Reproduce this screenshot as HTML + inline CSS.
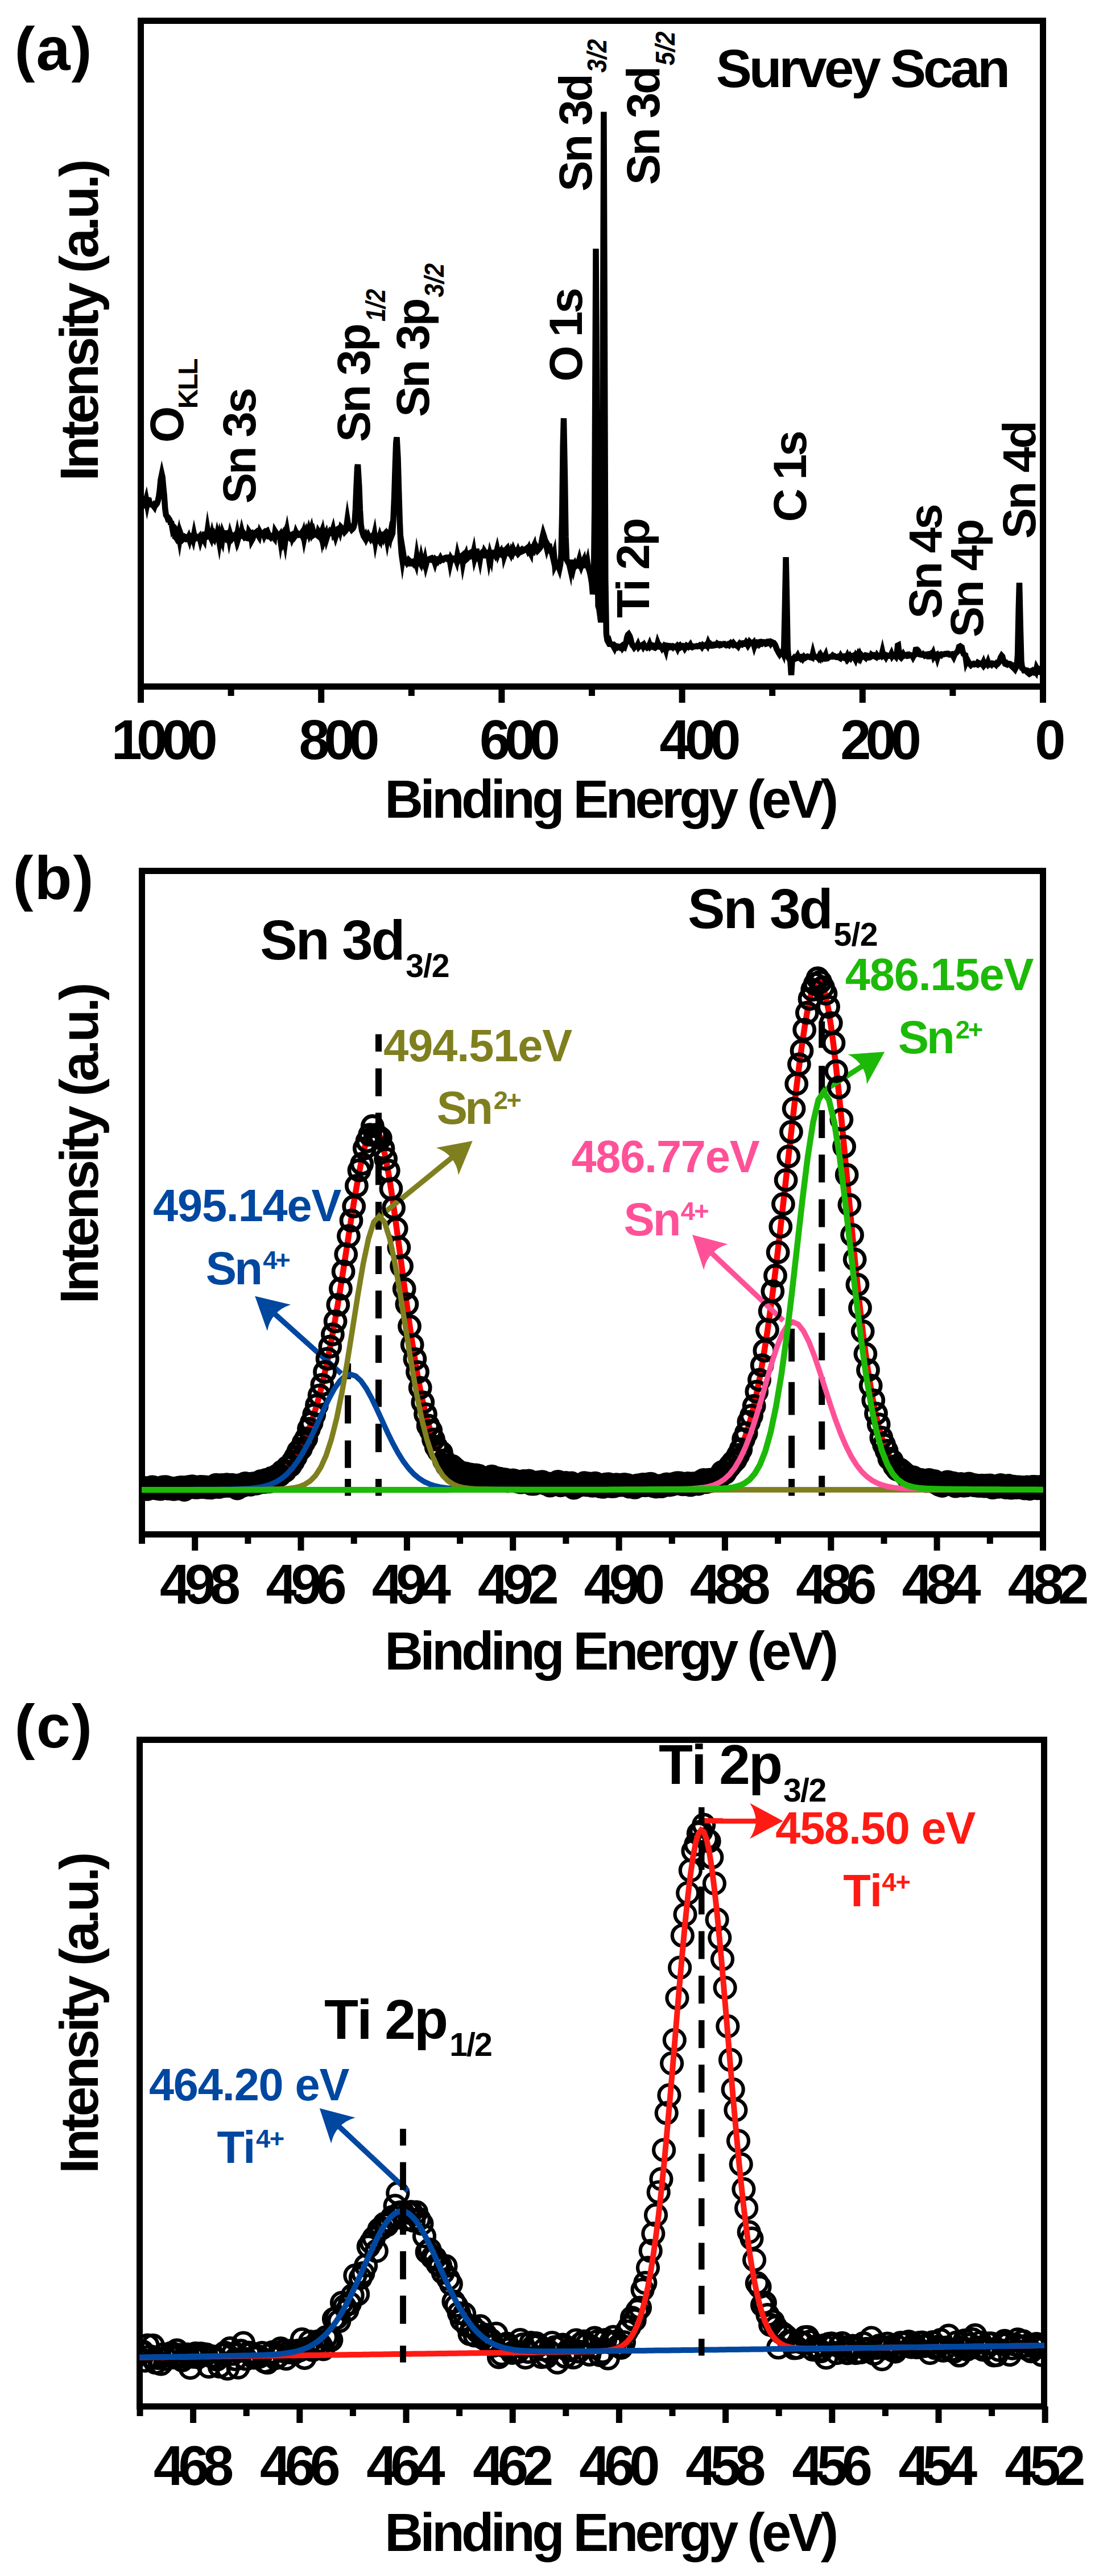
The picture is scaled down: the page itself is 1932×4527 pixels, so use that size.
<!DOCTYPE html>
<html><head><meta charset="utf-8"><title>XPS spectra</title>
<style>
html,body{margin:0;padding:0;background:#fff;}
svg{display:block;}
svg text{font-family:"Liberation Sans",Arial,Helvetica,sans-serif;font-kerning:none;white-space:pre;}
</style></head><body>
<svg width="1932" height="4527" viewBox="0 0 1932 4527">
<rect width="1932" height="4527" fill="#fff"/>
<path d="M247.5 879.2 L249.1 882.1 L250.7 878.0 L252.3 880.8 L253.8 885.3 L255.4 883.3 L257.0 877.6 L258.6 886.2 L260.2 878.5 L261.8 878.9 L263.4 885.9 L264.9 885.3 L266.5 886.9 L268.1 887.7 L269.7 888.7 L271.3 890.9 L272.9 886.1 L274.5 886.7 L276.0 884.8 L277.6 880.0 L279.2 872.5 L280.8 861.5 L282.4 843.7 L284.5 833.6 L285.6 838.4 L287.1 855.4 L288.7 871.3 L290.3 894.1 L291.9 905.4 L293.5 907.4 L295.1 912.0 L296.7 911.4 L298.3 913.7 L299.8 918.7 L301.4 919.3 L303.0 928.3 L304.6 925.0 L306.2 926.6 L307.8 943.4 L309.4 944.2 L310.9 946.7 L312.5 944.2 L314.1 937.7 L315.7 947.3 L317.3 937.4 L318.9 941.9 L320.5 943.3 L322.0 947.2 L323.6 945.6 L325.2 943.3 L326.8 944.2 L328.4 947.4 L330.0 947.0 L331.6 943.7 L333.1 948.3 L334.7 942.1 L336.3 943.1 L337.9 942.5 L339.5 947.5 L341.1 939.3 L342.7 947.0 L344.2 946.1 L345.8 943.8 L347.4 945.1 L349.0 945.0 L350.6 943.2 L352.2 949.6 L353.8 944.1 L355.3 943.0 L356.9 946.0 L358.5 948.8 L360.1 934.7 L361.7 944.2 L363.3 943.6 L364.9 932.0 L366.4 941.1 L368.0 942.0 L369.6 942.5 L371.2 945.9 L372.8 938.9 L374.4 945.3 L376.0 947.3 L377.6 941.4 L379.1 944.4 L380.7 945.9 L382.3 937.7 L383.9 942.9 L385.5 952.3 L387.1 941.9 L388.7 947.1 L390.2 950.9 L391.8 938.4 L393.4 942.5 L395.0 944.3 L396.6 937.1 L398.2 937.1 L399.8 938.6 L401.3 937.2 L402.9 946.5 L404.5 938.8 L406.1 944.2 L407.7 946.8 L409.3 944.8 L410.9 941.0 L412.4 941.3 L414.0 939.6 L415.6 946.3 L417.2 938.2 L418.8 946.1 L420.4 940.8 L422.0 941.7 L423.5 941.7 L425.1 933.9 L426.7 940.0 L428.3 942.2 L429.9 939.2 L431.5 941.3 L433.1 945.3 L434.6 945.8 L436.2 946.1 L437.8 934.9 L439.4 937.4 L441.0 936.9 L442.6 949.4 L444.2 946.5 L445.8 940.9 L447.3 940.0 L448.9 936.6 L450.5 935.3 L452.1 938.6 L453.7 940.5 L455.3 943.0 L456.9 935.4 L458.4 938.3 L460.0 937.5 L461.6 937.8 L463.2 936.5 L464.8 941.4 L466.4 938.1 L468.0 933.9 L469.5 933.0 L471.1 937.3 L472.7 942.5 L474.3 942.4 L475.9 944.2 L477.5 942.0 L479.1 942.7 L480.6 944.0 L482.2 946.0 L483.8 934.1 L485.4 936.7 L487.0 941.9 L488.6 941.4 L490.2 942.5 L491.7 940.5 L493.3 951.5 L494.9 942.3 L496.5 939.7 L498.1 947.9 L499.7 943.0 L501.3 951.9 L502.8 940.8 L504.4 933.0 L506.0 942.5 L507.6 943.4 L509.2 944.9 L510.8 940.0 L512.4 939.6 L513.9 945.7 L515.5 942.2 L517.1 944.3 L518.7 942.0 L520.3 936.0 L521.9 939.6 L523.5 938.5 L525.0 940.3 L526.6 940.1 L528.2 939.8 L529.8 937.5 L531.4 941.0 L533.0 936.5 L534.6 945.9 L536.2 938.0 L537.7 934.3 L539.3 939.7 L540.9 937.7 L542.5 932.2 L544.1 938.4 L545.7 934.7 L547.3 929.7 L548.8 936.8 L550.4 933.6 L552.0 939.6 L553.6 938.5 L555.2 937.8 L556.8 939.8 L558.4 941.1 L559.9 934.3 L561.5 936.8 L563.1 941.1 L564.7 937.0 L566.3 945.8 L567.9 937.9 L569.5 945.8 L571.0 940.6 L572.6 937.5 L574.2 946.1 L575.8 941.0 L577.4 938.0 L579.0 937.5 L580.6 933.9 L582.1 935.2 L583.7 935.8 L585.3 930.7 L586.9 938.9 L588.5 936.9 L590.1 942.8 L591.7 937.9 L593.2 934.9 L594.8 929.0 L596.4 928.0 L598.0 933.2 L599.6 926.8 L601.2 928.5 L602.8 931.3 L604.4 931.3 L605.9 934.6 L607.5 932.8 L609.1 924.9 L610.7 913.4 L612.3 923.2 L613.9 928.0 L615.5 928.8 L617.0 927.4 L618.6 930.4 L620.2 928.9 L621.8 925.9 L623.4 919.3 L625.0 894.3 L626.6 854.1 L628.1 821.6 L629.0 816.3 L631.3 853.9 L632.9 895.7 L634.5 921.7 L636.1 932.3 L637.7 937.3 L639.2 942.1 L640.8 944.6 L642.4 941.6 L644.0 946.4 L645.6 943.2 L647.2 940.3 L648.8 943.4 L650.3 943.6 L651.9 946.6 L653.5 944.1 L655.1 941.9 L656.7 946.1 L658.3 939.0 L659.9 950.4 L661.4 942.2 L663.0 943.9 L664.6 944.3 L666.2 947.3 L667.8 941.9 L669.4 946.4 L671.0 939.5 L672.5 939.5 L674.1 943.9 L675.7 939.4 L677.3 937.5 L678.9 939.8 L680.5 948.7 L682.1 939.2 L683.6 941.1 L685.2 945.4 L686.8 936.4 L688.4 941.3 L690.0 937.3 L691.6 909.2 L693.2 872.0 L694.8 819.2 L696.3 777.5 L697.5 768.4 L699.5 805.2 L701.1 862.0 L702.7 914.8 L704.3 951.1 L705.9 973.5 L707.4 984.0 L709.0 973.6 L710.6 983.6 L712.2 987.3 L713.8 986.6 L715.4 989.2 L717.0 987.1 L718.5 984.2 L720.1 985.8 L721.7 990.3 L723.3 990.2 L724.9 988.6 L726.5 990.3 L728.1 987.0 L729.6 985.7 L731.2 990.3 L732.8 978.3 L734.4 987.4 L736.0 987.7 L737.6 987.5 L739.2 990.2 L740.7 981.6 L742.3 988.4 L743.9 988.0 L745.5 991.4 L747.1 984.6 L748.7 993.1 L750.3 987.2 L751.8 984.2 L753.4 983.6 L755.0 982.3 L756.6 981.6 L758.2 981.0 L759.8 984.3 L761.4 984.4 L763.0 984.3 L764.5 988.9 L766.1 983.1 L767.7 984.3 L769.3 986.3 L770.9 983.5 L772.5 984.1 L774.1 981.2 L775.6 984.3 L777.2 983.1 L778.8 983.6 L780.4 981.7 L782.0 980.5 L783.6 980.1 L785.2 982.0 L786.7 982.9 L788.3 979.6 L789.9 979.3 L791.5 988.9 L793.1 981.7 L794.7 984.2 L796.3 982.7 L797.8 983.1 L799.4 981.1 L801.0 981.0 L802.6 985.4 L804.2 975.9 L805.8 982.3 L807.4 978.3 L808.9 979.3 L810.5 978.3 L812.1 976.9 L813.7 988.5 L815.3 980.1 L816.9 977.9 L818.5 974.5 L820.0 982.7 L821.6 981.3 L823.2 978.8 L824.8 978.5 L826.4 971.7 L828.0 970.8 L829.6 976.0 L831.1 976.6 L832.7 969.7 L834.3 980.6 L835.9 975.0 L837.5 964.4 L839.1 978.2 L840.7 976.3 L842.2 975.2 L843.8 982.9 L845.4 973.0 L847.0 971.5 L848.6 976.3 L850.2 976.2 L851.8 969.4 L853.4 971.9 L854.9 972.2 L856.5 974.1 L858.1 972.3 L859.7 982.8 L861.3 974.4 L862.9 980.1 L864.5 966.5 L866.0 975.8 L867.6 974.7 L869.2 972.7 L870.8 975.5 L872.4 971.9 L874.0 965.6 L875.6 973.0 L877.1 969.2 L878.7 971.1 L880.3 968.9 L881.9 974.7 L883.5 976.1 L885.1 962.6 L886.7 976.4 L888.2 971.8 L889.8 965.6 L891.4 963.9 L893.0 970.5 L894.6 972.0 L896.2 969.9 L897.8 973.2 L899.3 968.1 L900.9 971.0 L902.5 965.9 L904.1 969.7 L905.7 967.6 L907.3 968.6 L908.9 970.8 L910.4 967.4 L912.0 971.7 L913.6 970.0 L915.2 967.2 L916.8 966.0 L918.4 968.6 L920.0 967.8 L921.5 966.9 L923.1 965.2 L924.7 964.8 L926.3 963.5 L927.9 967.0 L929.5 963.8 L931.1 969.0 L932.7 972.1 L934.2 956.7 L935.8 975.8 L937.4 962.3 L939.0 958.8 L940.6 967.8 L942.2 967.9 L943.8 964.1 L945.3 967.3 L946.9 965.6 L948.5 963.8 L950.1 961.3 L951.7 955.2 L953.3 945.6 L955.0 938.5 L956.4 942.8 L958.0 948.5 L959.6 956.5 L961.2 963.2 L962.8 957.7 L964.4 960.6 L966.0 960.5 L967.5 968.2 L969.1 969.9 L970.7 973.1 L972.3 980.3 L973.9 974.7 L975.5 994.0 L977.1 990.7 L978.6 991.5 L980.2 990.1 L981.8 995.7 L983.4 999.9 L985.0 992.3 L986.6 973.9 L988.2 902.5 L989.7 782.7 L991.0 735.0 L992.9 834.1 L994.5 942.9 L996.1 983.5 L997.7 986.3 L999.3 989.3 L1000.9 992.3 L1002.4 998.9 L1004.0 983.8 L1005.6 995.2 L1007.2 1000.4 L1008.8 993.5 L1010.4 990.7 L1012.0 994.3 L1013.5 992.7 L1015.1 993.4 L1016.7 989.7 L1018.3 984.0 L1019.9 990.9 L1021.5 995.2 L1023.1 990.7 L1024.6 987.8 L1026.2 984.5 L1027.8 993.4 L1029.4 993.0 L1031.0 993.1 L1032.6 987.3 L1034.2 998.0 L1035.7 1001.5 L1037.3 1007.4 L1038.9 1015.6 L1040.5 1025.8 L1042.1 1044.2 L1043.7 1033.7 L1045.3 891.4 L1047.5 437.1 L1048.4 569.3 L1050.0 953.3 L1051.6 1065.0 L1053.2 1069.7 L1054.8 1081.2 L1056.4 1093.7 L1057.9 1056.1 L1059.5 744.4 L1061.4 196.6 L1062.7 534.5 L1064.3 1017.8 L1065.9 1114.1 L1067.5 1125.0 L1069.0 1127.8 L1070.6 1126.2 L1072.2 1131.6 L1073.8 1131.5 L1075.4 1132.2 L1077.0 1133.7 L1078.6 1136.0 L1080.2 1138.9 L1081.7 1135.2 L1083.3 1136.6 L1084.9 1137.7 L1086.5 1136.1 L1088.1 1136.6 L1089.7 1137.8 L1091.3 1136.3 L1092.8 1135.2 L1094.4 1138.7 L1096.0 1136.6 L1097.6 1137.6 L1099.2 1132.9 L1100.8 1127.9 L1102.4 1119.7 L1103.9 1115.4 L1105.0 1114.4 L1107.1 1118.0 L1108.7 1123.4 L1110.3 1130.1 L1111.9 1134.0 L1113.5 1135.4 L1115.0 1137.9 L1116.6 1136.2 L1118.2 1135.8 L1119.8 1135.9 L1121.4 1132.8 L1123.0 1136.9 L1124.6 1135.2 L1126.1 1134.6 L1127.7 1134.5 L1129.3 1133.5 L1130.9 1136.5 L1132.5 1134.0 L1134.1 1136.8 L1135.7 1136.4 L1137.2 1137.8 L1138.8 1136.2 L1140.4 1136.2 L1142.0 1132.4 L1143.6 1136.6 L1145.2 1135.3 L1146.8 1133.9 L1148.3 1134.4 L1149.9 1137.9 L1151.5 1138.5 L1153.1 1137.1 L1154.7 1136.7 L1156.3 1130.2 L1157.9 1134.3 L1159.5 1134.1 L1161.0 1136.5 L1162.6 1136.4 L1164.2 1139.4 L1165.8 1137.3 L1167.4 1135.2 L1169.0 1136.9 L1170.6 1141.8 L1172.1 1134.5 L1173.7 1134.8 L1175.3 1137.7 L1176.9 1136.4 L1178.5 1135.6 L1180.1 1136.9 L1181.7 1136.0 L1183.2 1137.6 L1184.8 1136.0 L1186.4 1136.6 L1188.0 1137.4 L1189.6 1135.8 L1191.2 1139.2 L1192.8 1135.5 L1194.3 1134.5 L1195.9 1138.1 L1197.5 1137.2 L1199.1 1135.1 L1200.7 1135.1 L1202.3 1136.3 L1203.9 1139.3 L1205.4 1137.0 L1207.0 1134.7 L1208.6 1135.8 L1210.2 1137.0 L1211.8 1135.5 L1213.4 1133.4 L1215.0 1136.8 L1216.5 1137.4 L1218.1 1135.9 L1219.7 1136.3 L1221.3 1136.1 L1222.9 1136.0 L1224.5 1135.3 L1226.1 1135.9 L1227.6 1135.2 L1229.2 1135.3 L1230.8 1133.8 L1232.4 1134.4 L1234.0 1136.6 L1235.6 1134.0 L1237.2 1135.3 L1238.8 1135.0 L1240.3 1134.0 L1241.9 1132.6 L1243.5 1134.7 L1245.1 1129.9 L1246.7 1133.3 L1248.3 1132.3 L1249.9 1134.8 L1251.4 1135.0 L1253.0 1134.7 L1254.6 1132.7 L1256.2 1132.5 L1257.8 1133.8 L1259.4 1133.5 L1261.0 1131.1 L1262.5 1132.1 L1264.1 1131.9 L1265.7 1134.1 L1267.3 1133.7 L1268.9 1132.1 L1270.5 1132.0 L1272.1 1131.6 L1273.6 1131.6 L1275.2 1133.3 L1276.8 1134.2 L1278.4 1133.9 L1280.0 1132.5 L1281.6 1133.7 L1283.2 1131.5 L1284.7 1130.0 L1286.3 1131.4 L1287.9 1132.7 L1289.5 1130.4 L1291.1 1132.3 L1292.7 1133.7 L1294.3 1134.4 L1295.8 1134.2 L1297.4 1135.9 L1299.0 1132.7 L1300.6 1130.7 L1302.2 1132.1 L1303.8 1132.7 L1305.4 1130.5 L1306.9 1130.3 L1308.5 1131.5 L1310.1 1131.6 L1311.7 1129.0 L1313.3 1131.2 L1314.9 1134.1 L1316.5 1131.6 L1318.0 1128.2 L1319.6 1129.8 L1321.2 1130.1 L1322.8 1130.9 L1324.4 1129.3 L1326.0 1135.2 L1327.6 1130.4 L1329.2 1129.5 L1330.7 1131.4 L1332.3 1129.1 L1333.9 1128.7 L1335.5 1132.0 L1337.1 1130.5 L1338.7 1131.1 L1340.3 1128.4 L1341.8 1128.8 L1343.4 1128.5 L1345.0 1129.5 L1346.6 1131.5 L1348.2 1131.1 L1349.8 1127.7 L1351.4 1127.5 L1352.9 1128.3 L1354.5 1130.7 L1356.1 1128.0 L1357.7 1128.7 L1359.3 1130.9 L1360.9 1130.7 L1362.5 1132.8 L1364.0 1136.6 L1365.6 1141.1 L1367.2 1143.5 L1368.8 1147.1 L1370.4 1149.6 L1372.0 1147.1 L1373.6 1145.7 L1375.1 1144.9 L1376.7 1148.4 L1378.3 1136.6 L1379.9 1064.3 L1381.6 979.0 L1383.1 1050.7 L1384.7 1140.4 L1386.2 1156.1 L1387.8 1157.9 L1389.4 1162.4 L1391.0 1186.3 L1392.6 1160.9 L1394.2 1158.0 L1395.8 1156.2 L1397.3 1157.9 L1398.9 1157.1 L1400.5 1154.8 L1402.1 1152.3 L1403.7 1155.8 L1405.3 1155.3 L1406.9 1156.9 L1408.5 1154.3 L1410.0 1154.0 L1411.6 1157.0 L1413.2 1154.6 L1414.8 1156.6 L1416.4 1155.7 L1418.0 1154.3 L1419.6 1153.6 L1421.1 1154.1 L1422.7 1154.2 L1424.3 1155.1 L1425.9 1154.6 L1427.5 1155.5 L1429.1 1148.6 L1430.7 1154.6 L1432.2 1154.2 L1433.8 1154.3 L1435.4 1154.8 L1437.0 1154.6 L1438.6 1156.5 L1440.2 1153.3 L1441.8 1155.7 L1443.3 1151.8 L1444.9 1154.3 L1446.5 1156.5 L1448.1 1154.8 L1449.7 1154.3 L1451.3 1151.1 L1452.9 1157.4 L1454.4 1157.2 L1456.0 1155.0 L1457.6 1154.9 L1459.2 1154.6 L1460.8 1153.8 L1462.4 1154.0 L1464.0 1152.0 L1465.5 1153.1 L1467.1 1153.0 L1468.7 1154.4 L1470.3 1154.9 L1471.9 1154.7 L1473.5 1153.9 L1475.1 1155.7 L1476.7 1156.6 L1478.2 1153.1 L1479.8 1155.6 L1481.4 1155.7 L1483.0 1156.1 L1484.6 1153.2 L1486.2 1153.1 L1487.8 1156.3 L1489.3 1153.2 L1490.9 1157.4 L1492.5 1155.3 L1494.1 1153.0 L1495.7 1155.5 L1497.3 1152.9 L1498.9 1153.2 L1500.4 1152.3 L1502.0 1155.2 L1503.6 1158.2 L1505.2 1152.7 L1506.8 1154.8 L1508.4 1151.1 L1510.0 1154.6 L1511.5 1151.1 L1513.1 1155.0 L1514.7 1151.5 L1516.3 1153.1 L1517.9 1153.9 L1519.5 1154.1 L1521.1 1155.5 L1522.6 1151.7 L1524.2 1152.0 L1525.8 1153.2 L1527.4 1155.5 L1529.0 1155.3 L1530.6 1154.4 L1532.2 1150.6 L1533.7 1151.7 L1535.3 1151.3 L1536.9 1153.3 L1538.5 1153.9 L1540.1 1154.8 L1541.7 1151.6 L1543.3 1153.8 L1544.8 1154.1 L1546.4 1152.8 L1548.0 1153.0 L1549.6 1152.0 L1551.2 1145.5 L1552.8 1152.6 L1554.4 1151.7 L1556.0 1152.2 L1557.5 1154.7 L1559.1 1151.8 L1560.7 1152.5 L1562.3 1152.8 L1563.9 1152.8 L1565.5 1152.6 L1567.1 1149.2 L1568.6 1153.2 L1570.2 1151.2 L1571.8 1151.5 L1573.4 1152.1 L1575.0 1153.9 L1576.6 1149.5 L1578.2 1134.5 L1579.0 1134.1 L1581.3 1152.8 L1582.9 1154.4 L1584.5 1150.3 L1586.1 1152.4 L1587.7 1149.8 L1589.3 1152.6 L1590.8 1152.1 L1592.4 1151.3 L1594.0 1150.7 L1595.6 1152.7 L1597.2 1152.4 L1598.8 1150.8 L1600.4 1151.7 L1601.9 1151.5 L1603.5 1151.4 L1605.1 1154.5 L1606.7 1151.6 L1608.3 1150.7 L1609.9 1141.8 L1612.0 1141.5 L1613.0 1142.2 L1614.6 1144.4 L1616.2 1149.9 L1617.8 1150.4 L1619.4 1150.6 L1621.0 1150.8 L1622.6 1149.5 L1624.1 1151.0 L1625.7 1152.5 L1627.3 1151.7 L1628.9 1150.0 L1630.5 1149.8 L1632.1 1153.6 L1633.7 1153.6 L1635.2 1151.9 L1636.8 1149.7 L1638.4 1151.0 L1640.0 1148.0 L1641.6 1153.9 L1643.2 1151.6 L1644.8 1151.3 L1646.4 1150.5 L1647.9 1155.7 L1649.5 1150.6 L1651.1 1150.6 L1652.7 1151.1 L1654.3 1151.8 L1655.9 1149.8 L1657.5 1150.1 L1659.0 1150.1 L1660.6 1149.4 L1662.2 1149.1 L1663.8 1149.2 L1665.4 1148.6 L1667.0 1148.8 L1668.6 1150.3 L1670.1 1150.6 L1671.7 1150.0 L1673.3 1149.6 L1674.9 1151.5 L1676.5 1154.3 L1678.1 1150.5 L1679.7 1148.4 L1681.2 1147.2 L1682.8 1145.6 L1684.4 1142.5 L1686.0 1136.6 L1688.0 1135.6 L1689.2 1136.4 L1690.8 1137.6 L1692.3 1144.9 L1693.9 1149.1 L1695.5 1150.5 L1697.1 1151.5 L1698.7 1162.9 L1700.3 1159.2 L1701.9 1162.2 L1703.4 1165.0 L1705.0 1167.1 L1706.6 1168.8 L1708.2 1167.2 L1709.8 1166.7 L1711.4 1166.3 L1713.0 1167.6 L1714.5 1167.1 L1716.1 1166.7 L1717.7 1167.5 L1719.3 1164.5 L1720.9 1165.3 L1722.5 1166.7 L1724.1 1165.9 L1725.7 1165.6 L1727.2 1167.6 L1728.8 1164.1 L1730.4 1168.6 L1732.0 1166.7 L1733.6 1167.8 L1735.2 1167.6 L1736.8 1163.7 L1738.3 1168.1 L1739.9 1167.0 L1741.5 1166.5 L1743.1 1167.9 L1744.7 1165.9 L1746.3 1166.3 L1747.9 1167.1 L1749.4 1166.5 L1751.0 1168.1 L1752.6 1165.5 L1754.2 1166.2 L1755.8 1164.4 L1757.4 1161.0 L1759.0 1155.7 L1761.0 1152.3 L1762.1 1153.5 L1763.7 1159.7 L1765.3 1162.6 L1766.9 1166.5 L1768.5 1167.2 L1770.1 1165.9 L1771.6 1167.5 L1773.2 1166.5 L1774.8 1166.5 L1776.4 1167.2 L1778.0 1170.0 L1779.6 1171.6 L1781.2 1170.6 L1782.7 1174.4 L1784.3 1176.2 L1785.9 1173.1 L1787.5 1171.5 L1789.1 1150.2 L1790.7 1071.2 L1792.0 1024.2 L1793.8 1102.6 L1795.4 1161.9 L1797.0 1174.4 L1798.6 1175.2 L1800.2 1178.4 L1801.8 1178.5 L1803.4 1177.8 L1805.0 1178.1 L1806.5 1181.8 L1808.1 1183.1 L1809.7 1180.3 L1811.3 1179.6 L1812.9 1182.4 L1814.5 1181.4 L1816.1 1179.2 L1817.6 1180.7 L1819.2 1179.0 L1820.8 1181.1 L1822.4 1174.0 L1824.0 1176.9 L1825.6 1180.3 L1827.2 1180.8 L1828.7 1177.5 L1830.3 1178.7 L1831.9 1180.5 L1833.5 1178.7" fill="none" stroke="#000" stroke-width="10.5" stroke-linejoin="miter" stroke-miterlimit="7"/>
<rect x="247.5" y="36.5" width="1586" height="1170" fill="none" stroke="#000" stroke-width="11"/>
<rect x="1828.0" y="1206" width="11" height="29" fill="#000"/>
<rect x="1669.4" y="1206" width="11" height="17" fill="#000"/>
<rect x="1510.8" y="1206" width="11" height="29" fill="#000"/>
<rect x="1352.2" y="1206" width="11" height="17" fill="#000"/>
<rect x="1193.6" y="1206" width="11" height="29" fill="#000"/>
<rect x="1035.0" y="1206" width="11" height="17" fill="#000"/>
<rect x="876.4" y="1206" width="11" height="29" fill="#000"/>
<rect x="717.8" y="1206" width="11" height="17" fill="#000"/>
<rect x="559.2" y="1206" width="11" height="29" fill="#000"/>
<rect x="400.6" y="1206" width="11" height="17" fill="#000"/>
<rect x="242.0" y="1206" width="11" height="29" fill="#000"/>
<text x="195.67" y="1333.60" style="font-size:97.34px;font-weight:bold;letter-spacing:-9.843px;fill:#000;">1000</text>
<text x="525.51" y="1333.60" style="font-size:97.34px;font-weight:bold;letter-spacing:-10.216px;fill:#000;">800</text>
<text x="842.94" y="1333.60" style="font-size:97.34px;font-weight:bold;letter-spacing:-10.178px;fill:#000;">600</text>
<text x="1159.53" y="1333.60" style="font-size:97.34px;font-weight:bold;letter-spacing:-9.724px;fill:#000;">400</text>
<text x="1477.13" y="1333.60" style="font-size:97.34px;font-weight:bold;letter-spacing:-9.773px;fill:#000;">200</text>
<text x="1819.15" y="1333.60" style="font-size:97.34px;font-weight:bold;letter-spacing:0.000px;fill:#000;">0</text>
<text x="676.31" y="1437.00" style="font-size:94.00px;font-weight:bold;letter-spacing:-5.584px;fill:#000;">Binding Energy (eV)</text>
<text transform="translate(172.10 839.00) rotate(-90)" x="-6.35" y="0" style="font-size:94.90px;font-weight:bold;letter-spacing:-5.146px;fill:#000;">Intensity (a.u.)</text>
<text x="25.52" y="123.40" style="font-size:108.00px;font-weight:bold;letter-spacing:1.982px;fill:#000;">(a)</text>
<text x="1258.68" y="153.30" style="font-size:94.50px;font-weight:bold;letter-spacing:-5.014px;fill:#000;">Survey Scan</text>
<text transform="translate(321.50 774.50) rotate(-90)" x="-3.38" y="0" style="font-size:82.47px;font-weight:bold;letter-spacing:0.000px;fill:#000;">O</text>
<text transform="translate(347.40 715.10) rotate(-90)" x="-3.20" y="0" style="font-size:47.84px;font-weight:bold;letter-spacing:-2.111px;fill:#000;">KLL</text>
<text transform="translate(449.30 882.60) rotate(-90)" x="-2.34" y="0" style="font-size:81.37px;font-weight:bold;letter-spacing:-3.378px;fill:#000;">Sn 3s</text>
<text transform="translate(650.00 774.40) rotate(-90)" x="-2.34" y="0" style="font-size:81.37px;font-weight:bold;letter-spacing:-3.190px;fill:#000;">Sn 3p</text>
<text transform="translate(676.50 564.40) rotate(-90) scale(0.8599 1)" x="-0.77" y="0" style="font-size:47.84px;font-weight:bold;font-style:italic;letter-spacing:0.000px;fill:#000;">1/2</text>
<text transform="translate(754.30 730.50) rotate(-90)" x="-2.34" y="0" style="font-size:81.37px;font-weight:bold;letter-spacing:-3.065px;fill:#000;">Sn 3p</text>
<text transform="translate(779.80 521.90) rotate(-90) scale(0.8943 1)" x="-0.37" y="0" style="font-size:47.84px;font-weight:bold;font-style:italic;letter-spacing:0.000px;fill:#000;">3/2</text>
<text transform="translate(1022.60 667.20) rotate(-90)" x="-3.34" y="0" style="font-size:81.37px;font-weight:bold;letter-spacing:-3.811px;fill:#000;">O 1s</text>
<text transform="translate(1039.60 334.10) rotate(-90)" x="-2.34" y="0" style="font-size:81.37px;font-weight:bold;letter-spacing:-3.584px;fill:#000;">Sn 3d</text>
<text transform="translate(1065.80 127.10) rotate(-90) scale(0.8836 1)" x="-0.37" y="0" style="font-size:47.84px;font-weight:bold;font-style:italic;letter-spacing:0.000px;fill:#000;">3/2</text>
<text transform="translate(1159.30 322.70) rotate(-90)" x="-2.34" y="0" style="font-size:81.37px;font-weight:bold;letter-spacing:-3.134px;fill:#000;">Sn 3d</text>
<text transform="translate(1185.70 114.60) rotate(-90) scale(0.8986 1)" x="-0.47" y="0" style="font-size:47.84px;font-weight:bold;font-style:italic;letter-spacing:0.000px;fill:#000;">5/2</text>
<text transform="translate(1141.00 1085.10) rotate(-90)" x="-0.91" y="0" style="font-size:81.37px;font-weight:bold;letter-spacing:-3.406px;fill:#000;">Ti 2p</text>
<text transform="translate(1416.70 914.00) rotate(-90)" x="-3.34" y="0" style="font-size:81.37px;font-weight:bold;letter-spacing:-3.668px;fill:#000;">C 1s</text>
<text transform="translate(1654.60 1085.00) rotate(-90)" x="-2.34" y="0" style="font-size:81.37px;font-weight:bold;letter-spacing:-3.728px;fill:#000;">Sn 4s</text>
<text transform="translate(1728.30 1117.70) rotate(-90)" x="-2.34" y="0" style="font-size:81.37px;font-weight:bold;letter-spacing:-3.240px;fill:#000;">Sn 4p</text>
<text transform="translate(1820.20 944.30) rotate(-90)" x="-2.34" y="0" style="font-size:81.37px;font-weight:bold;letter-spacing:-3.459px;fill:#000;">Sn 4d</text>
<rect x="249.5" y="1530.5" width="1584" height="1166" fill="none" stroke="#000" stroke-width="11"/>
<rect x="244.0" y="2696" width="11" height="17" fill="#000"/>
<rect x="337.2" y="2696" width="11" height="29" fill="#000"/>
<rect x="430.4" y="2696" width="11" height="17" fill="#000"/>
<rect x="523.5" y="2696" width="11" height="29" fill="#000"/>
<rect x="616.7" y="2696" width="11" height="17" fill="#000"/>
<rect x="709.9" y="2696" width="11" height="29" fill="#000"/>
<rect x="803.1" y="2696" width="11" height="17" fill="#000"/>
<rect x="896.2" y="2696" width="11" height="29" fill="#000"/>
<rect x="989.4" y="2696" width="11" height="17" fill="#000"/>
<rect x="1082.6" y="2696" width="11" height="29" fill="#000"/>
<rect x="1175.8" y="2696" width="11" height="17" fill="#000"/>
<rect x="1268.9" y="2696" width="11" height="29" fill="#000"/>
<rect x="1362.1" y="2696" width="11" height="17" fill="#000"/>
<rect x="1455.3" y="2696" width="11" height="29" fill="#000"/>
<rect x="1548.5" y="2696" width="11" height="17" fill="#000"/>
<rect x="1641.6" y="2696" width="11" height="29" fill="#000"/>
<rect x="1734.8" y="2696" width="11" height="17" fill="#000"/>
<rect x="1828.0" y="2696" width="11" height="29" fill="#000"/>
<clipPath id="clipb"><rect x="249" y="1536" width="1588" height="1155"/></clipPath>
<g clip-path="url(#clipb)">
<path d="M249.5 2615.6 L254.2 2615.6 L258.8 2615.5 L263.5 2615.4 L268.1 2615.4 L272.8 2615.3 L277.5 2615.2 L282.1 2615.1 L286.8 2615.0 L291.4 2614.9 L296.1 2614.8 L300.7 2614.7 L305.4 2614.6 L310.1 2614.5 L314.7 2614.4 L319.4 2614.3 L324.0 2614.2 L328.7 2614.1 L333.4 2614.0 L338.0 2613.8 L342.7 2613.7 L347.3 2613.5 L352.0 2613.4 L356.7 2613.2 L361.3 2613.1 L366.0 2612.9 L370.6 2612.7 L375.3 2612.6 L379.9 2612.4 L384.6 2612.2 L389.3 2611.9 L393.9 2611.7 L398.6 2611.5 L403.2 2611.2 L407.9 2610.9 L412.6 2610.6 L417.2 2610.3 L421.9 2609.9 L426.5 2609.5 L431.2 2609.1 L435.9 2608.6 L440.5 2608.0 L445.2 2607.3 L449.8 2606.5 L454.5 2605.6 L459.1 2604.6 L463.8 2603.4 L468.5 2602.0 L473.1 2600.3 L477.8 2598.4 L482.4 2596.2 L487.1 2593.5 L491.8 2590.5 L496.4 2587.0 L501.1 2583.0 L505.7 2578.3 L510.4 2573.0 L515.1 2567.0 L519.7 2560.2 L524.4 2552.6 L529.0 2544.0 L533.7 2534.4 L538.3 2523.7 L543.0 2511.9 L547.7 2498.9 L552.3 2484.5 L557.0 2468.8 L561.6 2451.7 L566.3 2433.0 L571.0 2412.8 L575.6 2391.1 L580.3 2367.8 L584.9 2343.1 L589.6 2316.9 L594.3 2289.4 L598.9 2260.8 L603.6 2231.5 L608.2 2201.5 L612.9 2171.5 L617.5 2141.8 L622.2 2112.8 L626.9 2085.3 L631.5 2059.7 L636.2 2036.7 L640.8 2017.1 L645.5 2001.3 L650.2 1990.2 L654.8 1984.1 L659.5 1983.5 L664.1 1988.5 L668.8 1999.3 L673.5 2015.2 L678.1 2036.0 L682.8 2061.0 L687.4 2089.6 L692.1 2121.1 L696.7 2154.6 L701.4 2189.5 L706.1 2224.9 L710.7 2260.2 L715.4 2294.7 L720.0 2328.0 L724.7 2359.6 L729.4 2389.2 L734.0 2416.5 L738.7 2441.4 L743.3 2463.9 L748.0 2483.8 L752.7 2501.3 L757.3 2516.6 L762.0 2529.7 L766.6 2540.9 L771.3 2550.3 L775.9 2558.2 L780.6 2564.8 L785.3 2570.2 L789.9 2574.7 L794.6 2578.4 L799.2 2581.4 L803.9 2583.9 L808.6 2586.0 L813.2 2587.8 L817.9 2589.3 L822.5 2590.5 L827.2 2591.7 L831.9 2592.7 L836.5 2593.6 L841.2 2594.4 L845.8 2595.2 L850.5 2595.9 L855.1 2596.6 L859.8 2597.3 L864.5 2597.9 L869.1 2598.5 L873.8 2599.1 L878.4 2599.6 L883.1 2600.2 L887.8 2600.7 L892.4 2601.2 L897.1 2601.7 L901.7 2602.1 L906.4 2602.6 L911.1 2603.0 L915.7 2603.4 L920.4 2603.8 L925.0 2604.2 L929.7 2604.6 L934.3 2604.9 L939.0 2605.3 L943.7 2605.6 L948.3 2605.9 L953.0 2606.2 L957.6 2606.5 L962.3 2606.8 L967.0 2607.1 L971.6 2607.3 L976.3 2607.6 L980.9 2607.8 L985.6 2608.0 L990.3 2608.3 L994.9 2608.5 L999.6 2608.7 L1004.2 2608.8 L1008.9 2609.0 L1013.5 2609.2 L1018.2 2609.3 L1022.9 2609.5 L1027.5 2609.6 L1032.2 2609.8 L1036.8 2609.9 L1041.5 2610.0 L1046.2 2610.1 L1050.8 2610.2 L1055.5 2610.3 L1060.1 2610.4 L1064.8 2610.4 L1069.5 2610.5 L1074.1 2610.6 L1078.8 2610.6 L1083.4 2610.6 L1088.1 2610.7 L1092.7 2610.7 L1097.4 2610.7 L1102.1 2610.7 L1106.7 2610.7 L1111.4 2610.7 L1116.0 2610.7 L1120.7 2610.7 L1125.4 2610.6 L1130.0 2610.6 L1134.7 2610.5 L1139.3 2610.5 L1144.0 2610.4 L1148.7 2610.3 L1153.3 2610.2 L1158.0 2610.1 L1162.6 2610.0 L1167.3 2609.8 L1171.9 2609.7 L1176.6 2609.5 L1181.3 2609.3 L1185.9 2609.1 L1190.6 2608.9 L1195.2 2608.7 L1199.9 2608.4 L1204.6 2608.1 L1209.2 2607.8 L1213.9 2607.4 L1218.5 2606.9 L1223.2 2606.4 L1227.9 2605.8 L1232.5 2605.1 L1237.2 2604.2 L1241.8 2603.2 L1246.5 2601.9 L1251.1 2600.4 L1255.8 2598.7 L1260.5 2596.5 L1265.1 2593.9 L1269.8 2590.7 L1274.4 2587.0 L1279.1 2582.5 L1283.8 2577.2 L1288.4 2570.9 L1293.1 2563.5 L1297.7 2554.8 L1302.4 2544.8 L1307.1 2533.3 L1311.7 2520.0 L1316.4 2505.0 L1321.0 2488.0 L1325.7 2469.0 L1330.3 2447.8 L1335.0 2424.3 L1339.7 2398.5 L1344.3 2370.3 L1349.0 2339.8 L1353.6 2307.1 L1358.3 2272.1 L1363.0 2235.1 L1367.6 2196.4 L1372.3 2156.3 L1376.9 2115.1 L1381.6 2073.3 L1386.3 2031.4 L1390.9 1990.0 L1395.6 1949.7 L1400.2 1910.7 L1404.9 1873.4 L1409.5 1838.6 L1414.2 1807.0 L1418.9 1779.4 L1423.5 1756.4 L1428.2 1738.9 L1432.8 1727.3 L1437.5 1722.3 L1442.2 1724.4 L1446.8 1733.6 L1451.5 1750.0 L1456.1 1773.2 L1460.8 1802.8 L1465.5 1838.0 L1470.1 1878.1 L1474.8 1922.0 L1479.4 1968.8 L1484.1 2017.6 L1488.7 2067.2 L1493.4 2116.9 L1498.1 2165.7 L1502.7 2213.0 L1507.4 2258.1 L1512.0 2300.6 L1516.7 2340.0 L1521.4 2376.2 L1526.0 2409.0 L1530.7 2438.3 L1535.3 2464.3 L1540.0 2487.1 L1544.7 2506.8 L1549.3 2523.6 L1554.0 2538.0 L1558.6 2550.0 L1563.3 2560.1 L1567.9 2568.4 L1572.6 2575.3 L1577.3 2580.9 L1581.9 2585.5 L1586.6 2589.2 L1591.2 2592.2 L1595.9 2594.6 L1600.6 2596.6 L1605.2 2598.2 L1609.9 2599.6 L1614.5 2600.7 L1619.2 2601.7 L1623.9 2602.6 L1628.5 2603.3 L1633.2 2603.9 L1637.8 2604.5 L1642.5 2605.1 L1647.1 2605.6 L1651.8 2606.0 L1656.5 2606.5 L1661.1 2606.9 L1665.8 2607.3 L1670.4 2607.7 L1675.1 2608.0 L1679.8 2608.4 L1684.4 2608.7 L1689.1 2609.0 L1693.7 2609.3 L1698.4 2609.6 L1703.1 2609.9 L1707.7 2610.1 L1712.4 2610.4 L1717.0 2610.6 L1721.7 2610.9 L1726.3 2611.1 L1731.0 2611.3 L1735.7 2611.5 L1740.3 2611.7 L1745.0 2611.9 L1749.6 2612.1 L1754.3 2612.3 L1759.0 2612.5 L1763.6 2612.6 L1768.3 2612.8 L1772.9 2612.9 L1777.6 2613.1 L1782.3 2613.2 L1786.9 2613.4 L1791.6 2613.5 L1796.2 2613.6 L1800.9 2613.8 L1805.5 2613.9 L1810.2 2614.0 L1814.9 2614.1 L1819.5 2614.2 L1824.2 2614.3 L1828.8 2614.4 L1833.5 2614.5" fill="none" stroke="#ff0000" stroke-width="10.5" stroke-linejoin="round"/>
<line x1="667.0" y1="2138.0" x2="795.0" y2="2034.0" stroke="#7f7f1f" stroke-width="9.3"/><path d="M830.7 2005.0 L806.0 2065.0 Q803.6 2047.0 793.4 2035.3 Q784.1 2022.9 766.9 2016.9 Z" fill="#7f7f1f"/>
<line x1="600.0" y1="2414.0" x2="482.4" y2="2308.5" stroke="#0047a0" stroke-width="9.3"/><path d="M448.2 2277.8 L511.3 2292.8 Q493.9 2298.0 483.9 2309.9 Q473.2 2321.1 469.9 2338.9 Z" fill="#0047a0"/>
<line x1="1448.0" y1="1917.0" x2="1516.5" y2="1873.2" stroke="#1db908" stroke-width="9.3"/><path d="M1555.2 1848.4 L1523.9 1905.2 Q1523.5 1887.1 1514.8 1874.3 Q1506.8 1860.9 1490.5 1853.0 Z" fill="#1db908"/>
<line x1="1377.0" y1="2321.0" x2="1250.5" y2="2201.6" stroke="#ff5198" stroke-width="9.3"/><path d="M1217.0 2170.0 L1279.7 2186.6 Q1262.2 2191.3 1251.9 2202.9 Q1240.9 2213.9 1237.2 2231.7 Z" fill="#ff5198"/>
<rect x="660.0" y="1817.5" width="11" height="30.5" fill="#000"/><rect x="660.0" y="1877.5" width="11" height="49.0" fill="#000"/><rect x="660.0" y="1955.5" width="11" height="49.0" fill="#000"/><rect x="660.0" y="2033.5" width="11" height="49.0" fill="#000"/><rect x="660.0" y="2112.0" width="11" height="49.0" fill="#000"/><rect x="660.0" y="2190.0" width="11" height="49.0" fill="#000"/><rect x="660.0" y="2268.0" width="11" height="49.0" fill="#000"/><rect x="660.0" y="2346.5" width="11" height="48.5" fill="#000"/><rect x="660.0" y="2424.5" width="11" height="48.0" fill="#000"/><rect x="660.0" y="2502.0" width="11" height="50.0" fill="#000"/><rect x="660.0" y="2599.0" width="11" height="29.7" fill="#000"/>
<rect x="606.1" y="2396.0" width="11" height="27.7" fill="#000"/><rect x="606.1" y="2452.0" width="11" height="49.6" fill="#000"/><rect x="606.1" y="2531.4" width="11" height="48.3" fill="#000"/><rect x="606.1" y="2599.0" width="11" height="29.7" fill="#000"/>
<rect x="1439.2" y="1795.0" width="11" height="46.5" fill="#000"/><rect x="1439.2" y="1873.0" width="11" height="49.0" fill="#000"/><rect x="1439.2" y="1951.0" width="11" height="49.0" fill="#000"/><rect x="1439.2" y="2029.0" width="11" height="49.0" fill="#000"/><rect x="1439.2" y="2107.5" width="11" height="49.0" fill="#000"/><rect x="1439.2" y="2185.5" width="11" height="49.0" fill="#000"/><rect x="1439.2" y="2264.0" width="11" height="49.0" fill="#000"/><rect x="1439.2" y="2342.0" width="11" height="48.6" fill="#000"/><rect x="1439.2" y="2420.4" width="11" height="48.6" fill="#000"/><rect x="1439.2" y="2498.0" width="11" height="49.5" fill="#000"/><rect x="1439.2" y="2593.5" width="11" height="35.2" fill="#000"/>
<rect x="1386.1" y="2335.0" width="11" height="57.7" fill="#000"/><rect x="1386.1" y="2428.8" width="11" height="57.8" fill="#000"/><rect x="1386.1" y="2523.0" width="11" height="56.8" fill="#000"/><rect x="1386.1" y="2599.0" width="11" height="29.7" fill="#000"/>
<g fill="none" stroke="#000" stroke-width="6.8"><circle cx="249.5" cy="2613.9" r="17.5"/><circle cx="254.2" cy="2616.1" r="17.5"/><circle cx="258.8" cy="2616.9" r="17.5"/><circle cx="263.5" cy="2614.7" r="17.5"/><circle cx="268.1" cy="2613.5" r="17.5"/><circle cx="272.8" cy="2615.2" r="17.5"/><circle cx="277.5" cy="2615.9" r="17.5"/><circle cx="282.1" cy="2616.7" r="17.5"/><circle cx="286.8" cy="2613.3" r="17.5"/><circle cx="291.4" cy="2613.1" r="17.5"/><circle cx="296.1" cy="2615.9" r="17.5"/><circle cx="300.7" cy="2615.4" r="17.5"/><circle cx="305.4" cy="2616.9" r="17.5"/><circle cx="310.1" cy="2616.0" r="17.5"/><circle cx="314.7" cy="2614.3" r="17.5"/><circle cx="319.4" cy="2613.9" r="17.5"/><circle cx="324.0" cy="2618.0" r="17.5"/><circle cx="328.7" cy="2613.7" r="17.5"/><circle cx="333.4" cy="2612.8" r="17.5"/><circle cx="338.0" cy="2612.1" r="17.5"/><circle cx="342.7" cy="2613.8" r="17.5"/><circle cx="347.3" cy="2613.8" r="17.5"/><circle cx="352.0" cy="2612.9" r="17.5"/><circle cx="356.7" cy="2613.2" r="17.5"/><circle cx="361.3" cy="2613.5" r="17.5"/><circle cx="366.0" cy="2614.0" r="17.5"/><circle cx="370.6" cy="2614.4" r="17.5"/><circle cx="375.3" cy="2612.9" r="17.5"/><circle cx="379.9" cy="2609.6" r="17.5"/><circle cx="384.6" cy="2613.2" r="17.5"/><circle cx="389.3" cy="2609.8" r="17.5"/><circle cx="393.9" cy="2611.4" r="17.5"/><circle cx="398.6" cy="2609.2" r="17.5"/><circle cx="403.2" cy="2611.2" r="17.5"/><circle cx="407.9" cy="2609.7" r="17.5"/><circle cx="412.6" cy="2611.0" r="17.5"/><circle cx="417.2" cy="2615.5" r="17.5"/><circle cx="421.9" cy="2609.8" r="17.5"/><circle cx="426.5" cy="2610.9" r="17.5"/><circle cx="431.2" cy="2607.0" r="17.5"/><circle cx="435.9" cy="2608.1" r="17.5"/><circle cx="440.5" cy="2609.0" r="17.5"/><circle cx="445.2" cy="2607.2" r="17.5"/><circle cx="449.8" cy="2607.1" r="17.5"/><circle cx="454.5" cy="2605.8" r="17.5"/><circle cx="459.1" cy="2602.9" r="17.5"/><circle cx="463.8" cy="2604.4" r="17.5"/><circle cx="468.5" cy="2600.6" r="17.5"/><circle cx="473.1" cy="2603.6" r="17.5"/><circle cx="477.8" cy="2597.5" r="17.5"/><circle cx="482.4" cy="2597.4" r="17.5"/><circle cx="487.1" cy="2593.5" r="17.5"/><circle cx="491.8" cy="2592.3" r="17.5"/><circle cx="496.4" cy="2585.8" r="17.5"/><circle cx="501.1" cy="2584.9" r="17.5"/><circle cx="505.7" cy="2578.1" r="17.5"/><circle cx="510.4" cy="2575.7" r="17.5"/><circle cx="515.1" cy="2568.4" r="17.5"/><circle cx="519.7" cy="2560.5" r="17.5"/><circle cx="524.4" cy="2550.8" r="17.5"/><circle cx="529.0" cy="2545.8" r="17.5"/><circle cx="533.7" cy="2535.5" r="17.5"/><circle cx="538.3" cy="2527.8" r="17.5"/><circle cx="543.0" cy="2511.0" r="17.5"/><circle cx="547.7" cy="2500.3" r="17.5"/><circle cx="552.3" cy="2485.9" r="17.5"/><circle cx="557.0" cy="2469.6" r="17.5"/><circle cx="561.6" cy="2452.3" r="17.5"/><circle cx="566.3" cy="2433.6" r="17.5"/><circle cx="571.0" cy="2411.0" r="17.5"/><circle cx="575.6" cy="2387.9" r="17.5"/><circle cx="580.3" cy="2366.5" r="17.5"/><circle cx="584.9" cy="2345.0" r="17.5"/><circle cx="589.6" cy="2322.1" r="17.5"/><circle cx="594.3" cy="2292.9" r="17.5"/><circle cx="598.9" cy="2264.7" r="17.5"/><circle cx="603.6" cy="2234.4" r="17.5"/><circle cx="608.2" cy="2204.2" r="17.5"/><circle cx="612.9" cy="2172.2" r="17.5"/><circle cx="617.5" cy="2144.9" r="17.5"/><circle cx="622.2" cy="2120.1" r="17.5"/><circle cx="626.9" cy="2083.9" r="17.5"/><circle cx="631.5" cy="2056.7" r="17.5"/><circle cx="636.2" cy="2045.2" r="17.5"/><circle cx="640.8" cy="2018.1" r="17.5"/><circle cx="645.5" cy="2005.6" r="17.5"/><circle cx="650.2" cy="1994.1" r="17.5"/><circle cx="654.8" cy="1979.0" r="17.5"/><circle cx="659.5" cy="1994.3" r="17.5"/><circle cx="664.1" cy="1996.5" r="17.5"/><circle cx="668.8" cy="2000.1" r="17.5"/><circle cx="673.5" cy="2018.6" r="17.5"/><circle cx="678.1" cy="2036.5" r="17.5"/><circle cx="682.8" cy="2057.2" r="17.5"/><circle cx="687.4" cy="2089.1" r="17.5"/><circle cx="692.1" cy="2122.6" r="17.5"/><circle cx="696.7" cy="2159.1" r="17.5"/><circle cx="701.4" cy="2192.2" r="17.5"/><circle cx="706.1" cy="2225.1" r="17.5"/><circle cx="710.7" cy="2265.1" r="17.5"/><circle cx="715.4" cy="2292.0" r="17.5"/><circle cx="720.0" cy="2330.7" r="17.5"/><circle cx="724.7" cy="2363.3" r="17.5"/><circle cx="729.4" cy="2388.3" r="17.5"/><circle cx="734.0" cy="2411.1" r="17.5"/><circle cx="738.7" cy="2438.8" r="17.5"/><circle cx="743.3" cy="2464.5" r="17.5"/><circle cx="748.0" cy="2485.2" r="17.5"/><circle cx="752.7" cy="2505.4" r="17.5"/><circle cx="757.3" cy="2514.1" r="17.5"/><circle cx="762.0" cy="2529.7" r="17.5"/><circle cx="766.6" cy="2542.4" r="17.5"/><circle cx="771.3" cy="2549.9" r="17.5"/><circle cx="775.9" cy="2553.0" r="17.5"/><circle cx="780.6" cy="2566.5" r="17.5"/><circle cx="785.3" cy="2575.1" r="17.5"/><circle cx="789.9" cy="2576.8" r="17.5"/><circle cx="794.6" cy="2576.5" r="17.5"/><circle cx="799.2" cy="2580.6" r="17.5"/><circle cx="803.9" cy="2584.4" r="17.5"/><circle cx="808.6" cy="2590.8" r="17.5"/><circle cx="813.2" cy="2588.9" r="17.5"/><circle cx="817.9" cy="2589.5" r="17.5"/><circle cx="822.5" cy="2593.5" r="17.5"/><circle cx="827.2" cy="2591.5" r="17.5"/><circle cx="831.9" cy="2596.1" r="17.5"/><circle cx="836.5" cy="2592.3" r="17.5"/><circle cx="841.2" cy="2593.5" r="17.5"/><circle cx="845.8" cy="2596.5" r="17.5"/><circle cx="850.5" cy="2598.5" r="17.5"/><circle cx="855.1" cy="2597.8" r="17.5"/><circle cx="859.8" cy="2597.8" r="17.5"/><circle cx="864.5" cy="2594.6" r="17.5"/><circle cx="869.1" cy="2597.2" r="17.5"/><circle cx="873.8" cy="2598.0" r="17.5"/><circle cx="878.4" cy="2598.7" r="17.5"/><circle cx="883.1" cy="2601.2" r="17.5"/><circle cx="887.8" cy="2600.1" r="17.5"/><circle cx="892.4" cy="2602.5" r="17.5"/><circle cx="897.1" cy="2601.8" r="17.5"/><circle cx="901.7" cy="2601.5" r="17.5"/><circle cx="906.4" cy="2602.8" r="17.5"/><circle cx="911.1" cy="2603.7" r="17.5"/><circle cx="915.7" cy="2604.9" r="17.5"/><circle cx="920.4" cy="2603.0" r="17.5"/><circle cx="925.0" cy="2603.8" r="17.5"/><circle cx="929.7" cy="2602.3" r="17.5"/><circle cx="934.3" cy="2607.6" r="17.5"/><circle cx="939.0" cy="2607.7" r="17.5"/><circle cx="943.7" cy="2605.3" r="17.5"/><circle cx="948.3" cy="2605.1" r="17.5"/><circle cx="953.0" cy="2604.2" r="17.5"/><circle cx="957.6" cy="2606.8" r="17.5"/><circle cx="962.3" cy="2607.1" r="17.5"/><circle cx="967.0" cy="2610.6" r="17.5"/><circle cx="971.6" cy="2607.7" r="17.5"/><circle cx="976.3" cy="2606.3" r="17.5"/><circle cx="980.9" cy="2603.8" r="17.5"/><circle cx="985.6" cy="2610.3" r="17.5"/><circle cx="990.3" cy="2608.6" r="17.5"/><circle cx="994.9" cy="2605.9" r="17.5"/><circle cx="999.6" cy="2608.9" r="17.5"/><circle cx="1004.2" cy="2606.3" r="17.5"/><circle cx="1008.9" cy="2614.6" r="17.5"/><circle cx="1013.5" cy="2611.0" r="17.5"/><circle cx="1018.2" cy="2610.2" r="17.5"/><circle cx="1022.9" cy="2609.2" r="17.5"/><circle cx="1027.5" cy="2606.2" r="17.5"/><circle cx="1032.2" cy="2609.6" r="17.5"/><circle cx="1036.8" cy="2607.4" r="17.5"/><circle cx="1041.5" cy="2610.9" r="17.5"/><circle cx="1046.2" cy="2606.7" r="17.5"/><circle cx="1050.8" cy="2608.8" r="17.5"/><circle cx="1055.5" cy="2612.2" r="17.5"/><circle cx="1060.1" cy="2612.9" r="17.5"/><circle cx="1064.8" cy="2608.6" r="17.5"/><circle cx="1069.5" cy="2608.1" r="17.5"/><circle cx="1074.1" cy="2611.9" r="17.5"/><circle cx="1078.8" cy="2611.9" r="17.5"/><circle cx="1083.4" cy="2609.1" r="17.5"/><circle cx="1088.1" cy="2609.6" r="17.5"/><circle cx="1092.7" cy="2609.6" r="17.5"/><circle cx="1097.4" cy="2608.9" r="17.5"/><circle cx="1102.1" cy="2609.7" r="17.5"/><circle cx="1106.7" cy="2612.7" r="17.5"/><circle cx="1111.4" cy="2611.8" r="17.5"/><circle cx="1116.0" cy="2613.9" r="17.5"/><circle cx="1120.7" cy="2610.5" r="17.5"/><circle cx="1125.4" cy="2610.4" r="17.5"/><circle cx="1130.0" cy="2609.0" r="17.5"/><circle cx="1134.7" cy="2610.3" r="17.5"/><circle cx="1139.3" cy="2608.4" r="17.5"/><circle cx="1144.0" cy="2607.6" r="17.5"/><circle cx="1148.7" cy="2611.4" r="17.5"/><circle cx="1153.3" cy="2612.5" r="17.5"/><circle cx="1158.0" cy="2611.4" r="17.5"/><circle cx="1162.6" cy="2612.1" r="17.5"/><circle cx="1167.3" cy="2610.2" r="17.5"/><circle cx="1171.9" cy="2608.5" r="17.5"/><circle cx="1176.6" cy="2609.7" r="17.5"/><circle cx="1181.3" cy="2608.7" r="17.5"/><circle cx="1185.9" cy="2607.4" r="17.5"/><circle cx="1190.6" cy="2606.2" r="17.5"/><circle cx="1195.2" cy="2606.3" r="17.5"/><circle cx="1199.9" cy="2608.4" r="17.5"/><circle cx="1204.6" cy="2608.3" r="17.5"/><circle cx="1209.2" cy="2607.0" r="17.5"/><circle cx="1213.9" cy="2609.7" r="17.5"/><circle cx="1218.5" cy="2607.2" r="17.5"/><circle cx="1223.2" cy="2607.4" r="17.5"/><circle cx="1227.9" cy="2607.8" r="17.5"/><circle cx="1232.5" cy="2603.7" r="17.5"/><circle cx="1237.2" cy="2600.9" r="17.5"/><circle cx="1241.8" cy="2604.5" r="17.5"/><circle cx="1246.5" cy="2600.7" r="17.5"/><circle cx="1251.1" cy="2602.7" r="17.5"/><circle cx="1255.8" cy="2599.3" r="17.5"/><circle cx="1260.5" cy="2598.3" r="17.5"/><circle cx="1265.1" cy="2595.3" r="17.5"/><circle cx="1269.8" cy="2586.8" r="17.5"/><circle cx="1274.4" cy="2588.4" r="17.5"/><circle cx="1279.1" cy="2581.2" r="17.5"/><circle cx="1283.8" cy="2575.6" r="17.5"/><circle cx="1288.4" cy="2569.9" r="17.5"/><circle cx="1293.1" cy="2565.1" r="17.5"/><circle cx="1297.7" cy="2556.8" r="17.5"/><circle cx="1302.4" cy="2547.1" r="17.5"/><circle cx="1307.1" cy="2529.3" r="17.5"/><circle cx="1311.7" cy="2518.6" r="17.5"/><circle cx="1316.4" cy="2498.9" r="17.5"/><circle cx="1321.0" cy="2487.8" r="17.5"/><circle cx="1325.7" cy="2470.7" r="17.5"/><circle cx="1330.3" cy="2445.6" r="17.5"/><circle cx="1335.0" cy="2425.0" r="17.5"/><circle cx="1339.7" cy="2399.2" r="17.5"/><circle cx="1344.3" cy="2373.6" r="17.5"/><circle cx="1349.0" cy="2337.1" r="17.5"/><circle cx="1353.6" cy="2304.2" r="17.5"/><circle cx="1358.3" cy="2269.3" r="17.5"/><circle cx="1363.0" cy="2241.7" r="17.5"/><circle cx="1367.6" cy="2200.7" r="17.5"/><circle cx="1372.3" cy="2155.8" r="17.5"/><circle cx="1376.9" cy="2116.0" r="17.5"/><circle cx="1381.6" cy="2073.8" r="17.5"/><circle cx="1386.3" cy="2032.3" r="17.5"/><circle cx="1390.9" cy="1989.1" r="17.5"/><circle cx="1395.6" cy="1948.2" r="17.5"/><circle cx="1400.2" cy="1904.8" r="17.5"/><circle cx="1404.9" cy="1870.3" r="17.5"/><circle cx="1409.5" cy="1846.6" r="17.5"/><circle cx="1414.2" cy="1809.7" r="17.5"/><circle cx="1418.9" cy="1779.7" r="17.5"/><circle cx="1423.5" cy="1755.4" r="17.5"/><circle cx="1428.2" cy="1739.2" r="17.5"/><circle cx="1432.8" cy="1729.1" r="17.5"/><circle cx="1437.5" cy="1719.1" r="17.5"/><circle cx="1442.2" cy="1725.4" r="17.5"/><circle cx="1446.8" cy="1734.8" r="17.5"/><circle cx="1451.5" cy="1746.3" r="17.5"/><circle cx="1456.1" cy="1769.3" r="17.5"/><circle cx="1460.8" cy="1797.9" r="17.5"/><circle cx="1465.5" cy="1832.9" r="17.5"/><circle cx="1470.1" cy="1882.3" r="17.5"/><circle cx="1474.8" cy="1911.1" r="17.5"/><circle cx="1479.4" cy="1967.6" r="17.5"/><circle cx="1484.1" cy="2014.9" r="17.5"/><circle cx="1488.7" cy="2064.6" r="17.5"/><circle cx="1493.4" cy="2117.3" r="17.5"/><circle cx="1498.1" cy="2170.2" r="17.5"/><circle cx="1502.7" cy="2213.3" r="17.5"/><circle cx="1507.4" cy="2257.6" r="17.5"/><circle cx="1512.0" cy="2298.4" r="17.5"/><circle cx="1516.7" cy="2339.6" r="17.5"/><circle cx="1521.4" cy="2379.2" r="17.5"/><circle cx="1526.0" cy="2407.8" r="17.5"/><circle cx="1530.7" cy="2435.0" r="17.5"/><circle cx="1535.3" cy="2460.8" r="17.5"/><circle cx="1540.0" cy="2484.1" r="17.5"/><circle cx="1544.7" cy="2503.2" r="17.5"/><circle cx="1549.3" cy="2526.4" r="17.5"/><circle cx="1554.0" cy="2538.8" r="17.5"/><circle cx="1558.6" cy="2549.5" r="17.5"/><circle cx="1563.3" cy="2563.3" r="17.5"/><circle cx="1567.9" cy="2567.1" r="17.5"/><circle cx="1572.6" cy="2576.8" r="17.5"/><circle cx="1577.3" cy="2582.5" r="17.5"/><circle cx="1581.9" cy="2582.4" r="17.5"/><circle cx="1586.6" cy="2586.2" r="17.5"/><circle cx="1591.2" cy="2590.4" r="17.5"/><circle cx="1595.9" cy="2596.3" r="17.5"/><circle cx="1600.6" cy="2598.9" r="17.5"/><circle cx="1605.2" cy="2596.1" r="17.5"/><circle cx="1609.9" cy="2601.4" r="17.5"/><circle cx="1614.5" cy="2600.1" r="17.5"/><circle cx="1619.2" cy="2601.0" r="17.5"/><circle cx="1623.9" cy="2601.6" r="17.5"/><circle cx="1628.5" cy="2602.7" r="17.5"/><circle cx="1633.2" cy="2600.9" r="17.5"/><circle cx="1637.8" cy="2602.9" r="17.5"/><circle cx="1642.5" cy="2603.0" r="17.5"/><circle cx="1647.1" cy="2606.4" r="17.5"/><circle cx="1651.8" cy="2609.5" r="17.5"/><circle cx="1656.5" cy="2611.0" r="17.5"/><circle cx="1661.1" cy="2606.4" r="17.5"/><circle cx="1665.8" cy="2604.5" r="17.5"/><circle cx="1670.4" cy="2607.0" r="17.5"/><circle cx="1675.1" cy="2606.5" r="17.5"/><circle cx="1679.8" cy="2611.6" r="17.5"/><circle cx="1684.4" cy="2609.6" r="17.5"/><circle cx="1689.1" cy="2607.8" r="17.5"/><circle cx="1693.7" cy="2610.8" r="17.5"/><circle cx="1698.4" cy="2610.4" r="17.5"/><circle cx="1703.1" cy="2607.3" r="17.5"/><circle cx="1707.7" cy="2609.3" r="17.5"/><circle cx="1712.4" cy="2610.0" r="17.5"/><circle cx="1717.0" cy="2610.7" r="17.5"/><circle cx="1721.7" cy="2611.1" r="17.5"/><circle cx="1726.3" cy="2610.6" r="17.5"/><circle cx="1731.0" cy="2611.6" r="17.5"/><circle cx="1735.7" cy="2610.6" r="17.5"/><circle cx="1740.3" cy="2610.3" r="17.5"/><circle cx="1745.0" cy="2614.2" r="17.5"/><circle cx="1749.6" cy="2612.6" r="17.5"/><circle cx="1754.3" cy="2612.9" r="17.5"/><circle cx="1759.0" cy="2610.0" r="17.5"/><circle cx="1763.6" cy="2612.4" r="17.5"/><circle cx="1768.3" cy="2614.0" r="17.5"/><circle cx="1772.9" cy="2611.0" r="17.5"/><circle cx="1777.6" cy="2614.7" r="17.5"/><circle cx="1782.3" cy="2612.6" r="17.5"/><circle cx="1786.9" cy="2614.0" r="17.5"/><circle cx="1791.6" cy="2613.3" r="17.5"/><circle cx="1796.2" cy="2614.0" r="17.5"/><circle cx="1800.9" cy="2615.5" r="17.5"/><circle cx="1805.5" cy="2613.3" r="17.5"/><circle cx="1810.2" cy="2616.3" r="17.5"/><circle cx="1814.9" cy="2613.0" r="17.5"/><circle cx="1819.5" cy="2612.9" r="17.5"/><circle cx="1824.2" cy="2615.4" r="17.5"/><circle cx="1828.8" cy="2612.9" r="17.5"/><circle cx="1833.5" cy="2614.0" r="17.5"/></g>
<path d="M249.5 2617.9 L249.5 2617.9 L252.6 2617.9 L261.9 2617.9 L271.2 2617.9 L280.6 2617.9 L289.9 2617.8 L299.2 2617.8 L308.5 2617.8 L317.8 2617.7 L327.2 2617.7 L336.5 2617.7 L345.8 2617.6 L355.1 2617.6 L364.4 2617.5 L373.7 2617.5 L383.1 2617.4 L392.4 2617.3 L401.7 2617.2 L411.0 2617.0 L420.3 2616.7 L429.6 2616.3 L439.0 2615.7 L448.3 2614.8 L457.6 2613.4 L466.9 2611.4 L476.2 2608.4 L485.6 2604.2 L494.9 2598.4 L504.2 2590.7 L513.5 2580.8 L522.8 2568.4 L532.1 2553.5 L541.5 2536.3 L550.8 2517.3 L560.1 2497.0 L569.4 2476.6 L578.7 2457.2 L588.0 2440.2 L597.4 2426.8 L606.7 2418.2 L616.0 2415.3 L625.3 2418.2 L634.6 2426.8 L644.0 2440.2 L653.3 2457.2 L662.6 2476.6 L671.9 2497.0 L681.2 2517.3 L690.5 2536.3 L699.9 2553.5 L709.2 2568.4 L718.5 2580.8 L727.8 2590.7 L737.1 2598.4 L746.4 2604.2 L755.8 2608.4 L765.1 2611.4 L774.4 2613.4 L783.7 2614.8 L793.0 2615.7 L802.4 2616.3 L811.7 2616.7 L821.0 2617.0 L830.3 2617.2 L839.6 2617.3 L848.9 2617.4 L858.3 2617.5 L867.6 2617.5 L876.9 2617.6 L886.2 2617.6 L895.5 2617.7 L904.8 2617.7 L914.2 2617.7 L923.5 2617.8 L932.8 2617.8 L942.1 2617.8 L951.4 2617.9 L960.8 2617.9 L970.1 2617.9 L979.4 2617.9 L988.7 2617.9 L998.0 2618.0 L1007.3 2618.0 L1016.7 2618.0 L1026.0 2618.0 L1035.3 2618.0 L1044.6 2618.0 L1053.9 2618.0 L1063.2 2618.0 L1072.6 2618.1 L1081.9 2618.1 L1091.2 2618.1 L1100.5 2618.1 L1109.8 2618.1 L1119.2 2618.1 L1128.5 2618.1 L1137.8 2618.1 L1147.1 2618.1 L1156.4 2618.1 L1165.7 2618.1 L1175.1 2618.1 L1184.4 2618.1 L1193.7 2618.1 L1203.0 2618.2 L1212.3 2618.2 L1221.6 2618.2 L1231.0 2618.2 L1240.3 2618.2 L1249.6 2618.2 L1258.9 2618.2 L1268.2 2618.2 L1277.6 2618.2 L1286.9 2618.2 L1296.2 2618.2 L1305.5 2618.2 L1314.8 2618.2 L1324.1 2618.2 L1333.5 2618.2 L1342.8 2618.2 L1352.1 2618.2 L1361.4 2618.2 L1370.7 2618.2 L1380.0 2618.2 L1389.4 2618.2 L1398.7 2618.2 L1408.0 2618.2 L1417.3 2618.2 L1426.6 2618.2 L1436.0 2618.2 L1445.3 2618.2 L1454.6 2618.2 L1463.9 2618.2 L1473.2 2618.2 L1482.5 2618.2 L1491.9 2618.2 L1501.2 2618.2 L1510.5 2618.2 L1519.8 2618.2 L1529.1 2618.2 L1538.4 2618.2 L1547.8 2618.2 L1557.1 2618.2 L1566.4 2618.2 L1575.7 2618.2 L1585.0 2618.2 L1594.4 2618.2 L1603.7 2618.2 L1613.0 2618.2 L1622.3 2618.2 L1631.6 2618.3 L1640.9 2618.3 L1650.3 2618.3 L1659.6 2618.3 L1668.9 2618.3 L1678.2 2618.3 L1687.5 2618.3 L1696.8 2618.3 L1706.2 2618.3 L1715.5 2618.3 L1724.8 2618.3 L1734.1 2618.3 L1743.4 2618.3 L1752.8 2618.3 L1762.1 2618.3 L1771.4 2618.3 L1780.7 2618.3 L1790.0 2618.3 L1799.3 2618.3 L1808.7 2618.3 L1818.0 2618.3 L1827.3 2618.3 L1833.5 2618.3" fill="none" stroke="#0047a0" stroke-width="9.5" stroke-linejoin="miter" stroke-miterlimit="6"/>
<path d="M249.5 2618.1 L249.5 2618.1 L256.5 2618.1 L265.8 2618.0 L275.2 2618.0 L284.5 2618.0 L293.8 2618.0 L303.1 2618.0 L312.4 2618.0 L321.7 2618.0 L331.1 2617.9 L340.4 2617.9 L349.7 2617.9 L359.0 2617.9 L368.3 2617.8 L377.7 2617.8 L387.0 2617.8 L396.3 2617.8 L405.6 2617.7 L414.9 2617.7 L424.2 2617.6 L433.6 2617.6 L442.9 2617.5 L452.2 2617.4 L461.5 2617.4 L470.8 2617.3 L480.1 2617.1 L489.5 2616.9 L498.8 2616.5 L508.1 2615.8 L517.4 2614.5 L526.7 2612.3 L536.1 2608.6 L545.4 2602.6 L554.7 2593.0 L564.0 2578.6 L573.3 2557.7 L582.6 2529.1 L592.0 2491.9 L601.3 2446.0 L610.6 2392.5 L619.9 2334.3 L629.2 2275.3 L638.5 2220.8 L647.9 2176.5 L657.2 2147.4 L666.5 2137.3 L675.8 2147.4 L685.1 2176.5 L694.5 2220.8 L703.8 2275.3 L713.1 2334.3 L722.4 2392.5 L731.7 2446.0 L741.0 2491.9 L750.4 2529.1 L759.7 2557.7 L769.0 2578.6 L778.3 2593.0 L787.6 2602.6 L796.9 2608.6 L806.3 2612.3 L815.6 2614.5 L824.9 2615.8 L834.2 2616.5 L843.5 2616.9 L852.9 2617.1 L862.2 2617.3 L871.5 2617.4 L880.8 2617.4 L890.1 2617.5 L899.4 2617.6 L908.8 2617.6 L918.1 2617.7 L927.4 2617.7 L936.7 2617.8 L946.0 2617.8 L955.3 2617.8 L964.7 2617.8 L974.0 2617.9 L983.3 2617.9 L992.6 2617.9 L1001.9 2617.9 L1011.3 2618.0 L1020.6 2618.0 L1029.9 2618.0 L1039.2 2618.0 L1048.5 2618.0 L1057.8 2618.0 L1067.2 2618.0 L1076.5 2618.1 L1085.8 2618.1 L1095.1 2618.1 L1104.4 2618.1 L1113.7 2618.1 L1123.1 2618.1 L1132.4 2618.1 L1141.7 2618.1 L1151.0 2618.1 L1160.3 2618.1 L1169.7 2618.1 L1179.0 2618.1 L1188.3 2618.1 L1197.6 2618.2 L1206.9 2618.2 L1216.2 2618.2 L1225.6 2618.2 L1234.9 2618.2 L1244.2 2618.2 L1253.5 2618.2 L1262.8 2618.2 L1272.1 2618.2 L1281.5 2618.2 L1290.8 2618.2 L1300.1 2618.2 L1309.4 2618.2 L1318.7 2618.2 L1328.1 2618.2 L1337.4 2618.2 L1346.7 2618.2 L1356.0 2618.2 L1365.3 2618.2 L1374.6 2618.2 L1384.0 2618.2 L1393.3 2618.2 L1402.6 2618.2 L1411.9 2618.2 L1421.2 2618.2 L1430.5 2618.2 L1439.9 2618.2 L1449.2 2618.2 L1458.5 2618.2 L1467.8 2618.2 L1477.1 2618.2 L1486.5 2618.2 L1495.8 2618.2 L1505.1 2618.2 L1514.4 2618.2 L1523.7 2618.2 L1533.0 2618.2 L1542.4 2618.2 L1551.7 2618.2 L1561.0 2618.2 L1570.3 2618.2 L1579.6 2618.3 L1588.9 2618.3 L1598.3 2618.3 L1607.6 2618.3 L1616.9 2618.3 L1626.2 2618.3 L1635.5 2618.3 L1644.9 2618.3 L1654.2 2618.3 L1663.5 2618.3 L1672.8 2618.3 L1682.1 2618.3 L1691.4 2618.3 L1700.8 2618.3 L1710.1 2618.3 L1719.4 2618.3 L1728.7 2618.3 L1738.0 2618.3 L1747.3 2618.3 L1756.7 2618.3 L1766.0 2618.3 L1775.3 2618.3 L1784.6 2618.3 L1793.9 2618.3 L1803.3 2618.3 L1812.6 2618.3 L1821.9 2618.3 L1831.2 2618.3 L1833.5 2618.3" fill="none" stroke="#7f7f1f" stroke-width="9.5" stroke-linejoin="miter" stroke-miterlimit="6"/>
<path d="M249.5 2618.3 L249.5 2618.3 L257.2 2618.3 L266.6 2618.3 L275.9 2618.3 L285.2 2618.3 L294.5 2618.2 L303.8 2618.2 L313.2 2618.2 L322.5 2618.2 L331.8 2618.2 L341.1 2618.2 L350.4 2618.2 L359.7 2618.2 L369.1 2618.2 L378.4 2618.2 L387.7 2618.2 L397.0 2618.2 L406.3 2618.2 L415.6 2618.2 L425.0 2618.2 L434.3 2618.2 L443.6 2618.2 L452.9 2618.2 L462.2 2618.2 L471.6 2618.2 L480.9 2618.2 L490.2 2618.2 L499.5 2618.2 L508.8 2618.2 L518.1 2618.2 L527.5 2618.2 L536.8 2618.2 L546.1 2618.2 L555.4 2618.2 L564.7 2618.2 L574.0 2618.2 L583.4 2618.2 L592.7 2618.2 L602.0 2618.2 L611.3 2618.2 L620.6 2618.2 L630.0 2618.2 L639.3 2618.2 L648.6 2618.2 L657.9 2618.2 L667.2 2618.2 L676.5 2618.2 L685.9 2618.2 L695.2 2618.2 L704.5 2618.2 L713.8 2618.2 L723.1 2618.2 L732.4 2618.2 L741.8 2618.2 L751.1 2618.2 L760.4 2618.1 L769.7 2618.1 L779.0 2618.1 L788.4 2618.1 L797.7 2618.1 L807.0 2618.1 L816.3 2618.1 L825.6 2618.1 L834.9 2618.1 L844.3 2618.1 L853.6 2618.1 L862.9 2618.1 L872.2 2618.1 L881.5 2618.1 L890.8 2618.1 L900.2 2618.1 L909.5 2618.0 L918.8 2618.0 L928.1 2618.0 L937.4 2618.0 L946.8 2618.0 L956.1 2618.0 L965.4 2618.0 L974.7 2618.0 L984.0 2617.9 L993.3 2617.9 L1002.7 2617.9 L1012.0 2617.9 L1021.3 2617.9 L1030.6 2617.8 L1039.9 2617.8 L1049.2 2617.8 L1058.6 2617.8 L1067.9 2617.7 L1077.2 2617.7 L1086.5 2617.7 L1095.8 2617.6 L1105.2 2617.6 L1114.5 2617.5 L1123.8 2617.5 L1133.1 2617.4 L1142.4 2617.4 L1151.7 2617.3 L1161.1 2617.2 L1170.4 2617.1 L1179.7 2617.0 L1189.0 2616.9 L1198.3 2616.7 L1207.6 2616.4 L1217.0 2616.0 L1226.3 2615.3 L1235.6 2614.3 L1244.9 2612.6 L1254.2 2610.0 L1263.6 2605.9 L1272.9 2600.0 L1282.2 2591.4 L1291.5 2579.7 L1300.8 2564.0 L1310.1 2544.1 L1319.5 2519.8 L1328.8 2491.5 L1338.1 2460.1 L1347.4 2427.4 L1356.7 2395.4 L1366.0 2366.5 L1375.4 2343.4 L1384.7 2328.5 L1394.0 2323.3 L1403.3 2327.4 L1412.6 2339.3 L1422.0 2357.9 L1431.3 2381.8 L1440.6 2409.1 L1449.9 2438.0 L1459.2 2466.9 L1468.5 2494.4 L1477.9 2519.4 L1487.2 2541.2 L1496.5 2559.6 L1505.8 2574.6 L1515.1 2586.4 L1524.4 2595.4 L1533.8 2602.1 L1543.1 2606.8 L1552.4 2610.2 L1561.7 2612.5 L1571.0 2614.1 L1580.4 2615.1 L1589.7 2615.8 L1599.0 2616.2 L1608.3 2616.5 L1617.6 2616.8 L1626.9 2616.9 L1636.3 2617.0 L1645.6 2617.1 L1654.9 2617.2 L1664.2 2617.3 L1673.5 2617.4 L1682.8 2617.4 L1692.2 2617.5 L1701.5 2617.5 L1710.8 2617.6 L1720.1 2617.6 L1729.4 2617.6 L1738.8 2617.7 L1748.1 2617.7 L1757.4 2617.7 L1766.7 2617.8 L1776.0 2617.8 L1785.3 2617.8 L1794.7 2617.8 L1804.0 2617.8 L1813.3 2617.9 L1822.6 2617.9 L1831.9 2617.9 L1833.5 2617.9" fill="none" stroke="#ff5198" stroke-width="9.5" stroke-linejoin="miter" stroke-miterlimit="6"/>
<path d="M249.5 2618.3 L249.5 2618.3 L255.3 2618.3 L264.7 2618.3 L274.0 2618.3 L283.3 2618.3 L292.6 2618.3 L301.9 2618.3 L311.2 2618.3 L320.6 2618.2 L329.9 2618.2 L339.2 2618.2 L348.5 2618.2 L357.8 2618.2 L367.2 2618.2 L376.5 2618.2 L385.8 2618.2 L395.1 2618.2 L404.4 2618.2 L413.7 2618.2 L423.1 2618.2 L432.4 2618.2 L441.7 2618.2 L451.0 2618.2 L460.3 2618.2 L469.6 2618.2 L479.0 2618.2 L488.3 2618.2 L497.6 2618.2 L506.9 2618.2 L516.2 2618.2 L525.6 2618.2 L534.9 2618.2 L544.2 2618.2 L553.5 2618.2 L562.8 2618.2 L572.1 2618.2 L581.5 2618.2 L590.8 2618.2 L600.1 2618.2 L609.4 2618.2 L618.7 2618.2 L628.0 2618.2 L637.4 2618.2 L646.7 2618.2 L656.0 2618.2 L665.3 2618.2 L674.6 2618.2 L684.0 2618.2 L693.3 2618.2 L702.6 2618.2 L711.9 2618.2 L721.2 2618.2 L730.5 2618.2 L739.9 2618.2 L749.2 2618.2 L758.5 2618.2 L767.8 2618.2 L777.1 2618.2 L786.4 2618.2 L795.8 2618.1 L805.1 2618.1 L814.4 2618.1 L823.7 2618.1 L833.0 2618.1 L842.4 2618.1 L851.7 2618.1 L861.0 2618.1 L870.3 2618.1 L879.6 2618.1 L888.9 2618.1 L898.3 2618.1 L907.6 2618.1 L916.9 2618.1 L926.2 2618.1 L935.5 2618.1 L944.8 2618.0 L954.2 2618.0 L963.5 2618.0 L972.8 2618.0 L982.1 2618.0 L991.4 2618.0 L1000.8 2618.0 L1010.1 2618.0 L1019.4 2618.0 L1028.7 2617.9 L1038.0 2617.9 L1047.3 2617.9 L1056.7 2617.9 L1066.0 2617.9 L1075.3 2617.8 L1084.6 2617.8 L1093.9 2617.8 L1103.2 2617.8 L1112.6 2617.7 L1121.9 2617.7 L1131.2 2617.7 L1140.5 2617.6 L1149.8 2617.6 L1159.2 2617.6 L1168.5 2617.5 L1177.8 2617.5 L1187.1 2617.4 L1196.4 2617.3 L1205.7 2617.3 L1215.1 2617.2 L1224.4 2617.1 L1233.7 2617.0 L1243.0 2616.8 L1252.3 2616.6 L1261.6 2616.3 L1271.0 2615.8 L1280.3 2615.0 L1289.6 2613.6 L1298.9 2611.2 L1308.2 2607.1 L1317.6 2600.4 L1326.9 2589.7 L1336.2 2573.5 L1345.5 2549.8 L1354.8 2516.7 L1364.1 2472.6 L1373.5 2416.6 L1382.8 2349.2 L1392.1 2272.3 L1401.4 2189.9 L1410.7 2107.8 L1420.0 2032.9 L1429.4 1972.4 L1438.7 1933.0 L1448.0 1919.3 L1457.3 1933.0 L1466.6 1972.4 L1476.0 2032.9 L1485.3 2107.8 L1494.6 2189.9 L1503.9 2272.3 L1513.2 2349.2 L1522.5 2416.6 L1531.9 2472.6 L1541.2 2516.7 L1550.5 2549.8 L1559.8 2573.5 L1569.1 2589.7 L1578.4 2600.4 L1587.8 2607.1 L1597.1 2611.2 L1606.4 2613.6 L1615.7 2615.0 L1625.0 2615.8 L1634.4 2616.3 L1643.7 2616.6 L1653.0 2616.8 L1662.3 2617.0 L1671.6 2617.1 L1680.9 2617.2 L1690.3 2617.3 L1699.6 2617.3 L1708.9 2617.4 L1718.2 2617.5 L1727.5 2617.5 L1736.8 2617.6 L1746.2 2617.6 L1755.5 2617.6 L1764.8 2617.7 L1774.1 2617.7 L1783.4 2617.7 L1792.8 2617.8 L1802.1 2617.8 L1811.4 2617.8 L1820.7 2617.8 L1830.0 2617.9 L1833.5 2617.9" fill="none" stroke="#1db908" stroke-width="10.5" stroke-linejoin="miter" stroke-miterlimit="6"/>
</g>
<text x="281.03" y="2818.40" style="font-size:97.34px;font-weight:bold;letter-spacing:-10.323px;fill:#000;">498</text>
<text x="467.38" y="2818.40" style="font-size:97.34px;font-weight:bold;letter-spacing:-10.062px;fill:#000;">496</text>
<text x="653.73" y="2818.40" style="font-size:97.34px;font-weight:bold;letter-spacing:-11.559px;fill:#000;">494</text>
<text x="840.08" y="2818.40" style="font-size:97.34px;font-weight:bold;letter-spacing:-9.872px;fill:#000;">492</text>
<text x="1026.43" y="2818.40" style="font-size:97.34px;font-weight:bold;letter-spacing:-9.824px;fill:#000;">490</text>
<text x="1212.78" y="2818.40" style="font-size:97.34px;font-weight:bold;letter-spacing:-10.323px;fill:#000;">488</text>
<text x="1399.13" y="2818.40" style="font-size:97.34px;font-weight:bold;letter-spacing:-10.062px;fill:#000;">486</text>
<text x="1585.48" y="2818.40" style="font-size:97.34px;font-weight:bold;letter-spacing:-11.559px;fill:#000;">484</text>
<text x="1771.83" y="2818.40" style="font-size:97.34px;font-weight:bold;letter-spacing:-9.872px;fill:#000;">482</text>
<text x="676.31" y="2934.00" style="font-size:94.00px;font-weight:bold;letter-spacing:-5.584px;fill:#000;">Binding Energy (eV)</text>
<text transform="translate(172.10 2285.00) rotate(-90)" x="-6.35" y="0" style="font-size:94.90px;font-weight:bold;letter-spacing:-5.213px;fill:#000;">Intensity (a.u.)</text>
<text x="22.62" y="1580.30" style="font-size:108.00px;font-weight:bold;letter-spacing:1.979px;fill:#000;">(b)</text>
<text x="457.17" y="1686.10" style="font-size:98.26px;font-weight:bold;letter-spacing:-3.031px;fill:#000;">Sn 3d</text>
<text x="713.29" y="1716.80" style="font-size:57.20px;font-weight:bold;letter-spacing:-1.056px;fill:#000;">3/2</text>
<text x="1208.97" y="1630.80" style="font-size:98.26px;font-weight:bold;letter-spacing:-2.956px;fill:#000;">Sn 3d</text>
<text x="1465.54" y="1661.50" style="font-size:57.20px;font-weight:bold;letter-spacing:-0.783px;fill:#000;">5/2</text>
<text x="674.20" y="1864.70" style="font-size:79.31px;font-weight:bold;letter-spacing:-1.092px;fill:#7f7f1f;">494.51eV</text>
<text x="767.66" y="1975.20" style="font-size:81.37px;font-weight:bold;letter-spacing:-4.687px;fill:#7f7f1f;">Sn</text>
<text x="867.63" y="1949.10" style="font-size:45.24px;font-weight:bold;letter-spacing:-2.378px;fill:#7f7f1f;">2+</text>
<text x="269.10" y="2145.80" style="font-size:79.31px;font-weight:bold;letter-spacing:-1.192px;fill:#0047a0;">495.14eV</text>
<text x="361.66" y="2256.60" style="font-size:81.37px;font-weight:bold;letter-spacing:-3.587px;fill:#0047a0;">Sn</text>
<text x="462.22" y="2230.30" style="font-size:45.24px;font-weight:bold;letter-spacing:-3.162px;fill:#0047a0;">4+</text>
<text x="1485.80" y="1739.50" style="font-size:79.31px;font-weight:bold;letter-spacing:-1.149px;fill:#1db908;">486.15eV</text>
<text x="1578.66" y="1851.00" style="font-size:81.37px;font-weight:bold;letter-spacing:-3.887px;fill:#1db908;">Sn</text>
<text x="1679.73" y="1824.70" style="font-size:45.24px;font-weight:bold;letter-spacing:-3.178px;fill:#1db908;">2+</text>
<text x="1004.40" y="2060.20" style="font-size:79.31px;font-weight:bold;letter-spacing:-1.192px;fill:#ff5198;">486.77eV</text>
<text x="1096.56" y="2171.00" style="font-size:81.37px;font-weight:bold;letter-spacing:-3.187px;fill:#ff5198;">Sn</text>
<text x="1196.82" y="2144.20" style="font-size:45.24px;font-weight:bold;letter-spacing:-1.762px;fill:#ff5198;">4+</text>
<path d="M245.5 3057.5 H1835.5 V4229 H245.5 Z" fill="none" stroke="#000" stroke-width="11"/>
<rect x="240.5" y="4229" width="11" height="17" fill="#000"/>
<rect x="334.1" y="4229" width="11" height="29" fill="#000"/>
<rect x="427.7" y="4229" width="11" height="17" fill="#000"/>
<rect x="521.3" y="4229" width="11" height="29" fill="#000"/>
<rect x="614.9" y="4229" width="11" height="17" fill="#000"/>
<rect x="708.5" y="4229" width="11" height="29" fill="#000"/>
<rect x="802.1" y="4229" width="11" height="17" fill="#000"/>
<rect x="895.7" y="4229" width="11" height="29" fill="#000"/>
<rect x="989.3" y="4229" width="11" height="17" fill="#000"/>
<rect x="1082.9" y="4229" width="11" height="29" fill="#000"/>
<rect x="1176.5" y="4229" width="11" height="17" fill="#000"/>
<rect x="1270.1" y="4229" width="11" height="29" fill="#000"/>
<rect x="1363.7" y="4229" width="11" height="17" fill="#000"/>
<rect x="1457.3" y="4229" width="11" height="29" fill="#000"/>
<rect x="1550.9" y="4229" width="11" height="17" fill="#000"/>
<rect x="1644.5" y="4229" width="11" height="29" fill="#000"/>
<rect x="1738.1" y="4229" width="11" height="17" fill="#000"/>
<rect x="1831.7" y="4229" width="11" height="29" fill="#000"/>
<clipPath id="clipc"><rect x="244" y="3063" width="1595" height="1161"/></clipPath>
<g clip-path="url(#clipc)">
<g fill="none" stroke="#000" stroke-width="6.2"><circle cx="245.5" cy="4132.0" r="18"/><circle cx="250.2" cy="4132.2" r="18"/><circle cx="254.9" cy="4148.6" r="18"/><circle cx="259.5" cy="4121.7" r="18"/><circle cx="264.2" cy="4141.1" r="18"/><circle cx="268.9" cy="4121.9" r="18"/><circle cx="273.6" cy="4152.2" r="18"/><circle cx="278.2" cy="4144.0" r="18"/><circle cx="282.9" cy="4154.4" r="18"/><circle cx="287.6" cy="4137.4" r="18"/><circle cx="292.3" cy="4145.6" r="18"/><circle cx="297.0" cy="4139.3" r="18"/><circle cx="301.6" cy="4135.1" r="18"/><circle cx="306.3" cy="4143.0" r="18"/><circle cx="311.0" cy="4130.3" r="18"/><circle cx="315.7" cy="4138.4" r="18"/><circle cx="320.3" cy="4147.8" r="18"/><circle cx="325.0" cy="4142.0" r="18"/><circle cx="329.7" cy="4137.6" r="18"/><circle cx="334.4" cy="4161.2" r="18"/><circle cx="339.1" cy="4141.7" r="18"/><circle cx="343.7" cy="4135.8" r="18"/><circle cx="348.4" cy="4142.5" r="18"/><circle cx="353.1" cy="4136.2" r="18"/><circle cx="357.8" cy="4137.4" r="18"/><circle cx="362.4" cy="4137.7" r="18"/><circle cx="367.1" cy="4159.1" r="18"/><circle cx="371.8" cy="4140.9" r="18"/><circle cx="376.5" cy="4142.2" r="18"/><circle cx="381.2" cy="4146.6" r="18"/><circle cx="385.8" cy="4158.8" r="18"/><circle cx="390.5" cy="4138.3" r="18"/><circle cx="395.2" cy="4134.6" r="18"/><circle cx="399.9" cy="4162.7" r="18"/><circle cx="404.6" cy="4126.8" r="18"/><circle cx="409.2" cy="4136.7" r="18"/><circle cx="413.9" cy="4146.0" r="18"/><circle cx="418.6" cy="4160.6" r="18"/><circle cx="423.3" cy="4131.1" r="18"/><circle cx="427.9" cy="4117.5" r="18"/><circle cx="432.6" cy="4145.5" r="18"/><circle cx="437.3" cy="4134.6" r="18"/><circle cx="442.0" cy="4135.7" r="18"/><circle cx="446.7" cy="4143.4" r="18"/><circle cx="451.3" cy="4141.0" r="18"/><circle cx="456.0" cy="4141.5" r="18"/><circle cx="460.7" cy="4134.8" r="18"/><circle cx="465.4" cy="4150.3" r="18"/><circle cx="470.0" cy="4152.0" r="18"/><circle cx="474.7" cy="4138.3" r="18"/><circle cx="479.4" cy="4133.6" r="18"/><circle cx="484.1" cy="4144.2" r="18"/><circle cx="488.8" cy="4141.4" r="18"/><circle cx="493.4" cy="4127.1" r="18"/><circle cx="498.1" cy="4131.9" r="18"/><circle cx="502.8" cy="4145.2" r="18"/><circle cx="507.5" cy="4134.0" r="18"/><circle cx="512.1" cy="4131.0" r="18"/><circle cx="516.8" cy="4135.0" r="18"/><circle cx="521.5" cy="4131.7" r="18"/><circle cx="526.2" cy="4130.7" r="18"/><circle cx="530.9" cy="4111.2" r="18"/><circle cx="535.5" cy="4143.8" r="18"/><circle cx="540.2" cy="4127.4" r="18"/><circle cx="544.9" cy="4115.0" r="18"/><circle cx="549.6" cy="4129.9" r="18"/><circle cx="554.2" cy="4120.7" r="18"/><circle cx="558.9" cy="4114.6" r="18"/><circle cx="563.6" cy="4120.8" r="18"/><circle cx="568.3" cy="4128.3" r="18"/><circle cx="573.0" cy="4107.3" r="18"/><circle cx="577.6" cy="4112.2" r="18"/><circle cx="582.3" cy="4112.2" r="18"/><circle cx="587.0" cy="4075.3" r="18"/><circle cx="591.7" cy="4073.4" r="18"/><circle cx="596.3" cy="4079.0" r="18"/><circle cx="601.0" cy="4046.8" r="18"/><circle cx="605.7" cy="4052.8" r="18"/><circle cx="610.4" cy="4059.6" r="18"/><circle cx="615.1" cy="4048.0" r="18"/><circle cx="619.7" cy="4033.8" r="18"/><circle cx="624.4" cy="3998.9" r="18"/><circle cx="629.1" cy="4031.7" r="18"/><circle cx="633.8" cy="4003.1" r="18"/><circle cx="638.4" cy="3994.8" r="18"/><circle cx="643.1" cy="3981.4" r="18"/><circle cx="647.8" cy="3948.2" r="18"/><circle cx="652.5" cy="3940.7" r="18"/><circle cx="657.2" cy="3932.9" r="18"/><circle cx="661.8" cy="3955.9" r="18"/><circle cx="666.5" cy="3918.2" r="18"/><circle cx="671.2" cy="3915.9" r="18"/><circle cx="675.9" cy="3908.1" r="18"/><circle cx="680.5" cy="3910.0" r="18"/><circle cx="685.2" cy="3903.4" r="18"/><circle cx="689.9" cy="3896.2" r="18"/><circle cx="694.6" cy="3876.4" r="18"/><circle cx="699.3" cy="3854.1" r="18"/><circle cx="703.9" cy="3887.8" r="18"/><circle cx="708.6" cy="3888.9" r="18"/><circle cx="713.3" cy="3900.4" r="18"/><circle cx="718.0" cy="3888.7" r="18"/><circle cx="722.6" cy="3887.0" r="18"/><circle cx="727.3" cy="3902.6" r="18"/><circle cx="732.0" cy="3887.7" r="18"/><circle cx="736.7" cy="3899.9" r="18"/><circle cx="741.4" cy="3907.9" r="18"/><circle cx="746.0" cy="3929.8" r="18"/><circle cx="750.7" cy="3957.6" r="18"/><circle cx="755.4" cy="3953.3" r="18"/><circle cx="760.1" cy="3967.1" r="18"/><circle cx="764.8" cy="3968.0" r="18"/><circle cx="769.4" cy="3978.8" r="18"/><circle cx="774.1" cy="3981.8" r="18"/><circle cx="778.8" cy="3993.9" r="18"/><circle cx="783.5" cy="3982.4" r="18"/><circle cx="788.1" cy="4004.9" r="18"/><circle cx="792.8" cy="4013.9" r="18"/><circle cx="797.5" cy="4044.6" r="18"/><circle cx="802.2" cy="4051.8" r="18"/><circle cx="806.9" cy="4065.0" r="18"/><circle cx="811.5" cy="4077.1" r="18"/><circle cx="816.2" cy="4066.3" r="18"/><circle cx="820.9" cy="4086.6" r="18"/><circle cx="825.6" cy="4101.7" r="18"/><circle cx="830.2" cy="4088.6" r="18"/><circle cx="834.9" cy="4104.5" r="18"/><circle cx="839.6" cy="4097.4" r="18"/><circle cx="844.3" cy="4087.9" r="18"/><circle cx="849.0" cy="4108.5" r="18"/><circle cx="853.6" cy="4103.0" r="18"/><circle cx="858.3" cy="4115.0" r="18"/><circle cx="863.0" cy="4112.3" r="18"/><circle cx="867.7" cy="4122.1" r="18"/><circle cx="872.3" cy="4101.2" r="18"/><circle cx="877.0" cy="4142.4" r="18"/><circle cx="881.7" cy="4137.2" r="18"/><circle cx="886.4" cy="4122.6" r="18"/><circle cx="891.1" cy="4118.5" r="18"/><circle cx="895.7" cy="4127.9" r="18"/><circle cx="900.4" cy="4134.9" r="18"/><circle cx="905.1" cy="4133.2" r="18"/><circle cx="909.8" cy="4133.5" r="18"/><circle cx="914.4" cy="4112.1" r="18"/><circle cx="919.1" cy="4120.2" r="18"/><circle cx="923.8" cy="4143.1" r="18"/><circle cx="928.5" cy="4133.2" r="18"/><circle cx="933.2" cy="4117.2" r="18"/><circle cx="937.8" cy="4123.2" r="18"/><circle cx="942.5" cy="4118.0" r="18"/><circle cx="947.2" cy="4121.9" r="18"/><circle cx="951.9" cy="4142.1" r="18"/><circle cx="956.5" cy="4129.2" r="18"/><circle cx="961.2" cy="4141.5" r="18"/><circle cx="965.9" cy="4132.8" r="18"/><circle cx="970.6" cy="4117.0" r="18"/><circle cx="975.3" cy="4124.8" r="18"/><circle cx="979.9" cy="4151.9" r="18"/><circle cx="984.6" cy="4123.3" r="18"/><circle cx="989.3" cy="4120.5" r="18"/><circle cx="994.0" cy="4141.5" r="18"/><circle cx="998.6" cy="4130.6" r="18"/><circle cx="1003.3" cy="4129.5" r="18"/><circle cx="1008.0" cy="4143.0" r="18"/><circle cx="1012.7" cy="4112.5" r="18"/><circle cx="1017.4" cy="4132.5" r="18"/><circle cx="1022.0" cy="4118.4" r="18"/><circle cx="1026.7" cy="4114.7" r="18"/><circle cx="1031.4" cy="4119.8" r="18"/><circle cx="1036.1" cy="4137.8" r="18"/><circle cx="1040.8" cy="4125.1" r="18"/><circle cx="1045.4" cy="4108.6" r="18"/><circle cx="1050.1" cy="4114.7" r="18"/><circle cx="1054.8" cy="4138.9" r="18"/><circle cx="1059.5" cy="4133.3" r="18"/><circle cx="1064.1" cy="4112.2" r="18"/><circle cx="1068.8" cy="4144.5" r="18"/><circle cx="1073.5" cy="4116.5" r="18"/><circle cx="1078.2" cy="4106.8" r="18"/><circle cx="1082.9" cy="4114.8" r="18"/><circle cx="1087.5" cy="4122.5" r="18"/><circle cx="1092.2" cy="4125.8" r="18"/><circle cx="1096.9" cy="4116.2" r="18"/><circle cx="1101.6" cy="4097.0" r="18"/><circle cx="1106.2" cy="4089.5" r="18"/><circle cx="1110.9" cy="4073.0" r="18"/><circle cx="1115.6" cy="4077.4" r="18"/><circle cx="1120.3" cy="4060.8" r="18"/><circle cx="1125.0" cy="4055.5" r="18"/><circle cx="1129.6" cy="4023.8" r="18"/><circle cx="1134.3" cy="4011.9" r="18"/><circle cx="1139.0" cy="3985.3" r="18"/><circle cx="1143.7" cy="3955.5" r="18"/><circle cx="1148.3" cy="3925.3" r="18"/><circle cx="1153.0" cy="3892.7" r="18"/><circle cx="1157.7" cy="3852.5" r="18"/><circle cx="1162.4" cy="3829.4" r="18"/><circle cx="1167.1" cy="3778.4" r="18"/><circle cx="1171.7" cy="3713.3" r="18"/><circle cx="1176.4" cy="3682.2" r="18"/><circle cx="1181.1" cy="3626.1" r="18"/><circle cx="1185.8" cy="3585.1" r="18"/><circle cx="1190.4" cy="3511.3" r="18"/><circle cx="1195.1" cy="3457.9" r="18"/><circle cx="1199.8" cy="3401.5" r="18"/><circle cx="1204.5" cy="3364.3" r="18"/><circle cx="1209.2" cy="3326.8" r="18"/><circle cx="1213.8" cy="3287.0" r="18"/><circle cx="1218.5" cy="3252.8" r="18"/><circle cx="1223.2" cy="3241.4" r="18"/><circle cx="1227.9" cy="3222.2" r="18"/><circle cx="1232.5" cy="3218.8" r="18"/><circle cx="1237.2" cy="3206.9" r="18"/><circle cx="1241.9" cy="3231.6" r="18"/><circle cx="1246.6" cy="3235.6" r="18"/><circle cx="1251.3" cy="3264.0" r="18"/><circle cx="1255.9" cy="3309.9" r="18"/><circle cx="1260.6" cy="3373.4" r="18"/><circle cx="1265.3" cy="3405.3" r="18"/><circle cx="1270.0" cy="3442.9" r="18"/><circle cx="1274.6" cy="3493.1" r="18"/><circle cx="1279.3" cy="3560.9" r="18"/><circle cx="1284.0" cy="3619.9" r="18"/><circle cx="1288.7" cy="3671.9" r="18"/><circle cx="1293.4" cy="3708.2" r="18"/><circle cx="1298.0" cy="3762.3" r="18"/><circle cx="1302.7" cy="3803.4" r="18"/><circle cx="1307.4" cy="3847.2" r="18"/><circle cx="1312.1" cy="3880.6" r="18"/><circle cx="1316.7" cy="3922.6" r="18"/><circle cx="1321.4" cy="3933.9" r="18"/><circle cx="1326.1" cy="3971.6" r="18"/><circle cx="1330.8" cy="4012.3" r="18"/><circle cx="1335.5" cy="4018.8" r="18"/><circle cx="1340.1" cy="4051.0" r="18"/><circle cx="1344.8" cy="4046.9" r="18"/><circle cx="1349.5" cy="4068.2" r="18"/><circle cx="1354.2" cy="4085.6" r="18"/><circle cx="1358.8" cy="4079.5" r="18"/><circle cx="1363.5" cy="4089.2" r="18"/><circle cx="1368.2" cy="4125.5" r="18"/><circle cx="1372.9" cy="4099.1" r="18"/><circle cx="1377.6" cy="4102.2" r="18"/><circle cx="1382.2" cy="4106.2" r="18"/><circle cx="1386.9" cy="4114.2" r="18"/><circle cx="1391.6" cy="4115.4" r="18"/><circle cx="1396.3" cy="4126.5" r="18"/><circle cx="1401.0" cy="4125.8" r="18"/><circle cx="1405.6" cy="4115.4" r="18"/><circle cx="1410.3" cy="4116.6" r="18"/><circle cx="1415.0" cy="4107.3" r="18"/><circle cx="1419.7" cy="4107.1" r="18"/><circle cx="1424.3" cy="4114.8" r="18"/><circle cx="1429.0" cy="4129.1" r="18"/><circle cx="1433.7" cy="4123.7" r="18"/><circle cx="1438.4" cy="4130.5" r="18"/><circle cx="1443.1" cy="4132.1" r="18"/><circle cx="1447.7" cy="4121.9" r="18"/><circle cx="1452.4" cy="4143.4" r="18"/><circle cx="1457.1" cy="4119.0" r="18"/><circle cx="1461.8" cy="4118.3" r="18"/><circle cx="1466.4" cy="4120.3" r="18"/><circle cx="1471.1" cy="4135.1" r="18"/><circle cx="1475.8" cy="4123.3" r="18"/><circle cx="1480.5" cy="4117.8" r="18"/><circle cx="1485.2" cy="4128.8" r="18"/><circle cx="1489.8" cy="4135.4" r="18"/><circle cx="1494.5" cy="4123.9" r="18"/><circle cx="1499.2" cy="4122.7" r="18"/><circle cx="1503.9" cy="4135.2" r="18"/><circle cx="1508.5" cy="4134.3" r="18"/><circle cx="1513.2" cy="4133.9" r="18"/><circle cx="1517.9" cy="4118.1" r="18"/><circle cx="1522.6" cy="4127.8" r="18"/><circle cx="1527.3" cy="4128.6" r="18"/><circle cx="1531.9" cy="4108.5" r="18"/><circle cx="1536.6" cy="4136.4" r="18"/><circle cx="1541.3" cy="4126.1" r="18"/><circle cx="1546.0" cy="4122.0" r="18"/><circle cx="1550.6" cy="4146.2" r="18"/><circle cx="1555.3" cy="4126.5" r="18"/><circle cx="1560.0" cy="4118.5" r="18"/><circle cx="1564.7" cy="4124.5" r="18"/><circle cx="1569.4" cy="4130.3" r="18"/><circle cx="1574.0" cy="4132.6" r="18"/><circle cx="1578.7" cy="4124.5" r="18"/><circle cx="1583.4" cy="4117.0" r="18"/><circle cx="1588.1" cy="4118.5" r="18"/><circle cx="1592.7" cy="4117.4" r="18"/><circle cx="1597.4" cy="4115.1" r="18"/><circle cx="1602.1" cy="4124.6" r="18"/><circle cx="1606.8" cy="4120.2" r="18"/><circle cx="1611.5" cy="4125.2" r="18"/><circle cx="1616.1" cy="4117.0" r="18"/><circle cx="1620.8" cy="4116.6" r="18"/><circle cx="1625.5" cy="4122.9" r="18"/><circle cx="1630.2" cy="4121.3" r="18"/><circle cx="1634.8" cy="4135.1" r="18"/><circle cx="1639.5" cy="4116.1" r="18"/><circle cx="1644.2" cy="4126.3" r="18"/><circle cx="1648.9" cy="4123.9" r="18"/><circle cx="1653.6" cy="4112.2" r="18"/><circle cx="1658.2" cy="4130.9" r="18"/><circle cx="1662.9" cy="4125.7" r="18"/><circle cx="1667.6" cy="4104.7" r="18"/><circle cx="1672.3" cy="4129.6" r="18"/><circle cx="1677.0" cy="4132.6" r="18"/><circle cx="1681.6" cy="4116.6" r="18"/><circle cx="1686.3" cy="4139.5" r="18"/><circle cx="1691.0" cy="4125.2" r="18"/><circle cx="1695.7" cy="4113.1" r="18"/><circle cx="1700.3" cy="4128.9" r="18"/><circle cx="1705.0" cy="4120.3" r="18"/><circle cx="1709.7" cy="4111.2" r="18"/><circle cx="1714.4" cy="4103.8" r="18"/><circle cx="1719.1" cy="4125.7" r="18"/><circle cx="1723.7" cy="4116.6" r="18"/><circle cx="1728.4" cy="4129.3" r="18"/><circle cx="1733.1" cy="4126.9" r="18"/><circle cx="1737.8" cy="4118.4" r="18"/><circle cx="1742.4" cy="4118.3" r="18"/><circle cx="1747.1" cy="4139.4" r="18"/><circle cx="1751.8" cy="4138.8" r="18"/><circle cx="1756.5" cy="4129.9" r="18"/><circle cx="1761.2" cy="4119.6" r="18"/><circle cx="1765.8" cy="4113.8" r="18"/><circle cx="1770.5" cy="4119.2" r="18"/><circle cx="1775.2" cy="4138.1" r="18"/><circle cx="1779.9" cy="4126.9" r="18"/><circle cx="1784.5" cy="4120.0" r="18"/><circle cx="1789.2" cy="4111.3" r="18"/><circle cx="1793.9" cy="4124.0" r="18"/><circle cx="1798.6" cy="4114.3" r="18"/><circle cx="1803.3" cy="4122.5" r="18"/><circle cx="1807.9" cy="4129.1" r="18"/><circle cx="1812.6" cy="4132.1" r="18"/><circle cx="1817.3" cy="4123.5" r="18"/><circle cx="1822.0" cy="4119.0" r="18"/><circle cx="1826.6" cy="4124.2" r="18"/><circle cx="1831.3" cy="4138.6" r="18"/><circle cx="1836.0" cy="4125.4" r="18"/></g>
<path d="M245.5 4143.0 L250.2 4142.9 L254.9 4142.9 L259.5 4142.8 L264.2 4142.8 L268.9 4142.7 L273.6 4142.6 L278.2 4142.6 L282.9 4142.5 L287.6 4142.5 L292.3 4142.4 L297.0 4142.3 L301.6 4142.3 L306.3 4142.2 L311.0 4142.1 L315.7 4142.1 L320.3 4142.0 L325.0 4142.0 L329.7 4141.9 L334.4 4141.8 L339.1 4141.8 L343.7 4141.7 L348.4 4141.6 L353.1 4141.6 L357.8 4141.5 L362.4 4141.5 L367.1 4141.4 L371.8 4141.3 L376.5 4141.3 L381.2 4141.2 L385.8 4141.2 L390.5 4141.1 L395.2 4141.0 L399.9 4141.0 L404.6 4140.9 L409.2 4140.8 L413.9 4140.8 L418.6 4140.7 L423.3 4140.7 L427.9 4140.6 L432.6 4140.5 L437.3 4140.5 L442.0 4140.4 L446.7 4140.4 L451.3 4140.3 L456.0 4140.2 L460.7 4140.2 L465.4 4140.1 L470.0 4140.0 L474.7 4140.0 L479.4 4139.9 L484.1 4139.9 L488.8 4139.8 L493.4 4139.7 L498.1 4139.7 L502.8 4139.6 L507.5 4139.5 L512.1 4139.5 L516.8 4139.4 L521.5 4139.4 L526.2 4139.3 L530.9 4139.2 L535.5 4139.2 L540.2 4139.1 L544.9 4139.1 L549.6 4139.0 L554.2 4138.9 L558.9 4138.9 L563.6 4138.8 L568.3 4138.7 L573.0 4138.7 L577.6 4138.6 L582.3 4138.6 L587.0 4138.5 L591.7 4138.4 L596.3 4138.4 L601.0 4138.3 L605.7 4138.3 L610.4 4138.2 L615.1 4138.1 L619.7 4138.1 L624.4 4138.0 L629.1 4137.9 L633.8 4137.9 L638.4 4137.8 L643.1 4137.8 L647.8 4137.7 L652.5 4137.6 L657.2 4137.6 L661.8 4137.5 L666.5 4137.4 L671.2 4137.4 L675.9 4137.3 L680.5 4137.3 L685.2 4137.2 L689.9 4137.1 L694.6 4137.1 L699.3 4137.0 L703.9 4137.0 L708.6 4136.9 L713.3 4136.8 L718.0 4136.8 L722.6 4136.7 L727.3 4136.6 L732.0 4136.6 L736.7 4136.5 L741.4 4136.5 L746.0 4136.4 L750.7 4136.3 L755.4 4136.3 L760.1 4136.2 L764.8 4136.2 L769.4 4136.1 L774.1 4136.0 L778.8 4136.0 L783.5 4135.9 L788.1 4135.8 L792.8 4135.8 L797.5 4135.7 L802.2 4135.7 L806.9 4135.6 L811.5 4135.5 L816.2 4135.5 L820.9 4135.4 L825.6 4135.3 L830.2 4135.3 L834.9 4135.2 L839.6 4135.2 L844.3 4135.1 L849.0 4135.0 L853.6 4135.0 L858.3 4134.9 L863.0 4134.9 L867.7 4134.8 L872.3 4134.7 L877.0 4134.7 L881.7 4134.6 L886.4 4134.5 L891.1 4134.5 L895.7 4134.4 L900.4 4134.4 L905.1 4134.3 L909.8 4134.2 L914.4 4134.2 L919.1 4134.1 L923.8 4134.1 L928.5 4134.0 L933.2 4133.9 L937.8 4133.9 L942.5 4133.8 L947.2 4133.7 L951.9 4133.7 L956.5 4133.6 L961.2 4133.6 L965.9 4133.5 L970.6 4133.4 L975.3 4133.4 L979.9 4133.3 L984.6 4133.2 L989.3 4133.2 L994.0 4133.1 L998.6 4133.1 L1003.3 4133.0 L1008.0 4132.9 L1012.7 4132.9 L1017.4 4132.8 L1022.0 4132.7 L1026.7 4132.7 L1031.4 4132.6 L1036.1 4132.5 L1040.8 4132.4 L1045.4 4132.2 L1050.1 4132.0 L1054.8 4131.8 L1059.5 4131.5 L1064.1 4131.1 L1068.8 4130.6 L1073.5 4129.8 L1078.2 4128.9 L1082.9 4127.5 L1087.5 4125.8 L1092.2 4123.4 L1096.9 4120.3 L1101.6 4116.4 L1106.2 4111.2 L1110.9 4104.7 L1115.6 4096.5 L1120.3 4086.3 L1125.0 4073.8 L1129.6 4058.6 L1134.3 4040.3 L1139.0 4018.7 L1143.7 3993.4 L1148.3 3964.1 L1153.0 3930.7 L1157.7 3893.1 L1162.4 3851.3 L1167.1 3805.7 L1171.7 3756.4 L1176.4 3704.2 L1181.1 3649.7 L1185.8 3593.7 L1190.4 3537.5 L1195.1 3482.0 L1199.8 3428.7 L1204.5 3378.8 L1209.2 3333.5 L1213.8 3294.3 L1218.5 3262.0 L1223.2 3237.8 L1227.9 3222.4 L1232.5 3216.1 L1237.2 3219.2 L1241.9 3231.6 L1246.6 3253.0 L1251.3 3282.6 L1255.9 3319.6 L1260.6 3362.9 L1265.3 3411.3 L1270.0 3463.6 L1274.6 3518.3 L1279.3 3574.4 L1284.0 3630.4 L1288.7 3685.4 L1293.4 3738.3 L1298.0 3788.5 L1302.7 3835.2 L1307.4 3878.1 L1312.1 3916.9 L1316.7 3951.6 L1321.4 3982.0 L1326.1 4008.5 L1330.8 4031.2 L1335.5 4050.4 L1340.1 4066.4 L1344.8 4079.6 L1349.5 4090.4 L1354.2 4099.1 L1358.8 4106.0 L1363.5 4111.4 L1368.2 4115.6 L1372.9 4118.8 L1377.6 4121.3 L1382.2 4123.1 L1386.9 4124.4 L1391.6 4125.4 L1396.3 4126.1 L1401.0 4126.5 L1405.6 4126.9 L1410.3 4127.1 L1415.0 4127.2 L1419.7 4127.3 L1424.3 4127.3 L1429.0 4127.3 L1433.7 4127.3 L1438.4 4127.2 L1443.1 4127.2 L1447.7 4127.1 L1452.4 4127.1 L1457.1 4127.0 L1461.8 4126.9 L1466.4 4126.9 L1471.1 4126.8 L1475.8 4126.8 L1480.5 4126.7 L1485.2 4126.6 L1489.8 4126.6 L1494.5 4126.5 L1499.2 4126.5 L1503.9 4126.4 L1508.5 4126.3 L1513.2 4126.3 L1517.9 4126.2 L1522.6 4126.1 L1527.3 4126.1 L1531.9 4126.0 L1536.6 4126.0 L1541.3 4125.9 L1546.0 4125.8 L1550.6 4125.8 L1555.3 4125.7 L1560.0 4125.7 L1564.7 4125.6 L1569.4 4125.5 L1574.0 4125.5 L1578.7 4125.4 L1583.4 4125.3 L1588.1 4125.3 L1592.7 4125.2 L1597.4 4125.2 L1602.1 4125.1 L1606.8 4125.0 L1611.5 4125.0 L1616.1 4124.9 L1620.8 4124.9 L1625.5 4124.8 L1630.2 4124.7 L1634.8 4124.7 L1639.5 4124.6 L1644.2 4124.5 L1648.9 4124.5 L1653.6 4124.4 L1658.2 4124.4 L1662.9 4124.3 L1667.6 4124.2 L1672.3 4124.2 L1677.0 4124.1 L1681.6 4124.0 L1686.3 4124.0 L1691.0 4123.9 L1695.7 4123.9 L1700.3 4123.8 L1705.0 4123.7 L1709.7 4123.7 L1714.4 4123.6 L1719.1 4123.6 L1723.7 4123.5 L1728.4 4123.4 L1733.1 4123.4 L1737.8 4123.3 L1742.4 4123.2 L1747.1 4123.2 L1751.8 4123.1 L1756.5 4123.1 L1761.2 4123.0 L1765.8 4122.9 L1770.5 4122.9 L1775.2 4122.8 L1779.9 4122.8 L1784.5 4122.7 L1789.2 4122.6 L1793.9 4122.6 L1798.6 4122.5 L1803.3 4122.4 L1807.9 4122.4 L1812.6 4122.3 L1817.3 4122.3 L1822.0 4122.2 L1826.6 4122.1 L1831.3 4122.1 L1836.0 4122.0" fill="none" stroke="#ff1a14" stroke-width="10" stroke-linejoin="miter" stroke-miterlimit="6"/>
<path d="M245.5 4142.6 L250.2 4142.6 L254.9 4142.5 L259.5 4142.4 L264.2 4142.4 L268.9 4142.3 L273.6 4142.2 L278.2 4142.2 L282.9 4142.1 L287.6 4142.0 L292.3 4141.9 L297.0 4141.9 L301.6 4141.8 L306.3 4141.7 L311.0 4141.7 L315.7 4141.6 L320.3 4141.5 L325.0 4141.4 L329.7 4141.4 L334.4 4141.3 L339.1 4141.2 L343.7 4141.1 L348.4 4141.1 L353.1 4141.0 L357.8 4140.9 L362.4 4140.8 L367.1 4140.8 L371.8 4140.7 L376.5 4140.6 L381.2 4140.5 L385.8 4140.4 L390.5 4140.3 L395.2 4140.3 L399.9 4140.2 L404.6 4140.1 L409.2 4140.0 L413.9 4139.9 L418.6 4139.8 L423.3 4139.7 L427.9 4139.6 L432.6 4139.5 L437.3 4139.4 L442.0 4139.3 L446.7 4139.1 L451.3 4139.0 L456.0 4138.9 L460.7 4138.7 L465.4 4138.5 L470.0 4138.3 L474.7 4138.0 L479.4 4137.8 L484.1 4137.4 L488.8 4137.1 L493.4 4136.6 L498.1 4136.1 L502.8 4135.5 L507.5 4134.8 L512.1 4134.0 L516.8 4133.1 L521.5 4132.0 L526.2 4130.7 L530.9 4129.2 L535.5 4127.5 L540.2 4125.5 L544.9 4123.3 L549.6 4120.7 L554.2 4117.8 L558.9 4114.5 L563.6 4110.8 L568.3 4106.6 L573.0 4102.0 L577.6 4096.9 L582.3 4091.3 L587.0 4085.2 L591.7 4078.5 L596.3 4071.4 L601.0 4063.6 L605.7 4055.4 L610.4 4046.7 L615.1 4037.6 L619.7 4028.0 L624.4 4018.1 L629.1 4007.9 L633.8 3997.5 L638.4 3986.9 L643.1 3976.4 L647.8 3965.9 L652.5 3955.6 L657.2 3945.5 L661.8 3935.9 L666.5 3926.9 L671.2 3918.4 L675.9 3910.8 L680.5 3904.0 L685.2 3898.2 L689.9 3893.4 L694.6 3889.8 L699.3 3887.3 L703.9 3886.1 L708.6 3886.1 L713.3 3887.3 L718.0 3889.8 L722.6 3893.5 L727.3 3898.2 L732.0 3904.1 L736.7 3910.8 L741.4 3918.5 L746.0 3926.9 L750.7 3935.9 L755.4 3945.4 L760.1 3955.3 L764.8 3965.5 L769.4 3975.9 L774.1 3986.4 L778.8 3996.8 L783.5 4007.0 L788.1 4017.1 L792.8 4026.9 L797.5 4036.3 L802.2 4045.2 L806.9 4053.8 L811.5 4061.8 L816.2 4069.3 L820.9 4076.3 L825.6 4082.8 L830.2 4088.7 L834.9 4094.1 L839.6 4099.1 L844.3 4103.5 L849.0 4107.5 L853.6 4111.0 L858.3 4114.1 L863.0 4116.9 L867.7 4119.3 L872.3 4121.4 L877.0 4123.2 L881.7 4124.8 L886.4 4126.1 L891.1 4127.2 L895.7 4128.2 L900.4 4129.0 L905.1 4129.7 L909.8 4130.2 L914.4 4130.7 L919.1 4131.1 L923.8 4131.4 L928.5 4131.6 L933.2 4131.8 L937.8 4132.0 L942.5 4132.1 L947.2 4132.2 L951.9 4132.2 L956.5 4132.3 L961.2 4132.3 L965.9 4132.3 L970.6 4132.3 L975.3 4132.3 L979.9 4132.3 L984.6 4132.3 L989.3 4132.3 L994.0 4132.2 L998.6 4132.2 L1003.3 4132.2 L1008.0 4132.1 L1012.7 4132.1 L1017.4 4132.1 L1022.0 4132.0 L1026.7 4132.0 L1031.4 4131.9 L1036.1 4131.9 L1040.8 4131.8 L1045.4 4131.8 L1050.1 4131.8 L1054.8 4131.7 L1059.5 4131.7 L1064.1 4131.6 L1068.8 4131.6 L1073.5 4131.5 L1078.2 4131.5 L1082.9 4131.4 L1087.5 4131.4 L1092.2 4131.3 L1096.9 4131.3 L1101.6 4131.2 L1106.2 4131.2 L1110.9 4131.1 L1115.6 4131.1 L1120.3 4131.0 L1125.0 4131.0 L1129.6 4130.9 L1134.3 4130.9 L1139.0 4130.8 L1143.7 4130.8 L1148.3 4130.7 L1153.0 4130.6 L1157.7 4130.6 L1162.4 4130.5 L1167.1 4130.5 L1171.7 4130.4 L1176.4 4130.4 L1181.1 4130.3 L1185.8 4130.3 L1190.4 4130.2 L1195.1 4130.2 L1199.8 4130.1 L1204.5 4130.0 L1209.2 4130.0 L1213.8 4129.9 L1218.5 4129.9 L1223.2 4129.8 L1227.9 4129.8 L1232.5 4129.7 L1237.2 4129.6 L1241.9 4129.6 L1246.6 4129.5 L1251.3 4129.5 L1255.9 4129.4 L1260.6 4129.4 L1265.3 4129.3 L1270.0 4129.2 L1274.6 4129.2 L1279.3 4129.1 L1284.0 4129.1 L1288.7 4129.0 L1293.4 4129.0 L1298.0 4128.9 L1302.7 4128.8 L1307.4 4128.8 L1312.1 4128.7 L1316.7 4128.7 L1321.4 4128.6 L1326.1 4128.5 L1330.8 4128.5 L1335.5 4128.4 L1340.1 4128.4 L1344.8 4128.3 L1349.5 4128.2 L1354.2 4128.2 L1358.8 4128.1 L1363.5 4128.1 L1368.2 4128.0 L1372.9 4128.0 L1377.6 4127.9 L1382.2 4127.8 L1386.9 4127.8 L1391.6 4127.7 L1396.3 4127.7 L1401.0 4127.6 L1405.6 4127.5 L1410.3 4127.5 L1415.0 4127.4 L1419.7 4127.4 L1424.3 4127.3 L1429.0 4127.2 L1433.7 4127.2 L1438.4 4127.1 L1443.1 4127.1 L1447.7 4127.0 L1452.4 4126.9 L1457.1 4126.9 L1461.8 4126.8 L1466.4 4126.8 L1471.1 4126.7 L1475.8 4126.6 L1480.5 4126.6 L1485.2 4126.5 L1489.8 4126.5 L1494.5 4126.4 L1499.2 4126.3 L1503.9 4126.3 L1508.5 4126.2 L1513.2 4126.2 L1517.9 4126.1 L1522.6 4126.0 L1527.3 4126.0 L1531.9 4125.9 L1536.6 4125.9 L1541.3 4125.8 L1546.0 4125.7 L1550.6 4125.7 L1555.3 4125.6 L1560.0 4125.5 L1564.7 4125.5 L1569.4 4125.4 L1574.0 4125.4 L1578.7 4125.3 L1583.4 4125.2 L1588.1 4125.2 L1592.7 4125.1 L1597.4 4125.1 L1602.1 4125.0 L1606.8 4124.9 L1611.5 4124.9 L1616.1 4124.8 L1620.8 4124.8 L1625.5 4124.7 L1630.2 4124.6 L1634.8 4124.6 L1639.5 4124.5 L1644.2 4124.5 L1648.9 4124.4 L1653.6 4124.3 L1658.2 4124.3 L1662.9 4124.2 L1667.6 4124.2 L1672.3 4124.1 L1677.0 4124.0 L1681.6 4124.0 L1686.3 4123.9 L1691.0 4123.8 L1695.7 4123.8 L1700.3 4123.7 L1705.0 4123.7 L1709.7 4123.6 L1714.4 4123.5 L1719.1 4123.5 L1723.7 4123.4 L1728.4 4123.4 L1733.1 4123.3 L1737.8 4123.2 L1742.4 4123.2 L1747.1 4123.1 L1751.8 4123.1 L1756.5 4123.0 L1761.2 4122.9 L1765.8 4122.9 L1770.5 4122.8 L1775.2 4122.7 L1779.9 4122.7 L1784.5 4122.6 L1789.2 4122.6 L1793.9 4122.5 L1798.6 4122.4 L1803.3 4122.4 L1807.9 4122.3 L1812.6 4122.3 L1817.3 4122.2 L1822.0 4122.1 L1826.6 4122.1 L1831.3 4122.0 L1836.0 4122.0" fill="none" stroke="#0047a0" stroke-width="10" stroke-linejoin="miter" stroke-miterlimit="6"/>
</g>
<line x1="1238.0" y1="3199.8" x2="1330.8" y2="3200.1" stroke="#ff1a14" stroke-width="9.5"/><path d="M1376.6 3200.3 L1318.0 3231.5 Q1328.4 3215.8 1328.8 3200.1 Q1328.5 3184.4 1318.2 3168.7 Z" fill="#ff1a14"/>
<line x1="717.0" y1="3850.5" x2="595.4" y2="3736.5" stroke="#0047a0" stroke-width="9.3"/><path d="M561.8 3705.1 L624.6 3721.4 Q607.1 3726.3 596.8 3737.9 Q585.9 3748.9 582.2 3766.7 Z" fill="#0047a0"/>
<rect x="1228.0" y="3176.0" width="10.5" height="30.0" fill="#000"/><rect x="1228.0" y="3237.0" width="10.5" height="49.0" fill="#000"/><rect x="1228.0" y="3315.4" width="10.5" height="49.0" fill="#000"/><rect x="1228.0" y="3393.7" width="10.5" height="49.0" fill="#000"/><rect x="1228.0" y="3472.0" width="10.5" height="49.0" fill="#000"/><rect x="1228.0" y="3550.2" width="10.5" height="49.0" fill="#000"/><rect x="1228.0" y="3628.4" width="10.5" height="49.0" fill="#000"/><rect x="1228.0" y="3706.7" width="10.5" height="49.0" fill="#000"/><rect x="1228.0" y="3785.0" width="10.5" height="49.0" fill="#000"/><rect x="1228.0" y="3863.2" width="10.5" height="49.0" fill="#000"/><rect x="1228.0" y="3941.5" width="10.5" height="47.0" fill="#000"/><rect x="1228.0" y="4017.0" width="10.5" height="50.0" fill="#000"/><rect x="1228.0" y="4110.0" width="10.5" height="29.7" fill="#000"/>
<rect x="703.1" y="3741.1" width="10.8" height="29.5" fill="#000"/><rect x="703.1" y="3799.7" width="10.8" height="49.0" fill="#000"/><rect x="703.1" y="3878.3" width="10.8" height="49.0" fill="#000"/><rect x="703.1" y="3956.2" width="10.8" height="49.4" fill="#000"/><rect x="703.1" y="4034.3" width="10.8" height="49.5" fill="#000"/><rect x="703.1" y="4122.2" width="10.8" height="29.5" fill="#000"/>
<text x="270.03" y="4367.00" style="font-size:97.34px;font-weight:bold;letter-spacing:-10.673px;fill:#000;">468</text>
<text x="457.09" y="4367.00" style="font-size:97.34px;font-weight:bold;letter-spacing:-10.412px;fill:#000;">466</text>
<text x="644.15" y="4367.00" style="font-size:97.34px;font-weight:bold;letter-spacing:-11.909px;fill:#000;">464</text>
<text x="831.21" y="4367.00" style="font-size:97.34px;font-weight:bold;letter-spacing:-10.222px;fill:#000;">462</text>
<text x="1018.27" y="4367.00" style="font-size:97.34px;font-weight:bold;letter-spacing:-10.174px;fill:#000;">460</text>
<text x="1205.33" y="4367.00" style="font-size:97.34px;font-weight:bold;letter-spacing:-10.673px;fill:#000;">458</text>
<text x="1392.39" y="4367.00" style="font-size:97.34px;font-weight:bold;letter-spacing:-10.412px;fill:#000;">456</text>
<text x="1579.45" y="4367.00" style="font-size:97.34px;font-weight:bold;letter-spacing:-11.909px;fill:#000;">454</text>
<text x="1766.51" y="4367.00" style="font-size:97.34px;font-weight:bold;letter-spacing:-10.222px;fill:#000;">452</text>
<text x="676.31" y="4483.20" style="font-size:94.00px;font-weight:bold;letter-spacing:-5.584px;fill:#000;">Binding Energy (eV)</text>
<text transform="translate(172.10 3813.50) rotate(-90)" x="-6.35" y="0" style="font-size:94.90px;font-weight:bold;letter-spacing:-5.179px;fill:#000;">Intensity (a.u.)</text>
<text x="25.62" y="3071.40" style="font-size:108.00px;font-weight:bold;letter-spacing:2.132px;fill:#000;">(c)</text>
<text x="1158.10" y="3135.20" style="font-size:98.26px;font-weight:bold;letter-spacing:-2.815px;fill:#000;">Ti 2p</text>
<text x="1376.89" y="3165.80" style="font-size:57.20px;font-weight:bold;letter-spacing:-1.556px;fill:#000;">3/2</text>
<text x="570.00" y="3582.50" style="font-size:98.26px;font-weight:bold;letter-spacing:-2.815px;fill:#000;">Ti 2p</text>
<text x="790.20" y="3613.00" style="font-size:57.20px;font-weight:bold;letter-spacing:-1.911px;fill:#000;">1/2</text>
<text x="1363.30" y="3239.90" style="font-size:79.31px;font-weight:bold;letter-spacing:-1.197px;fill:#ff1a14;">458.50 eV</text>
<text x="1482.21" y="3349.90" style="font-size:79.31px;font-weight:bold;letter-spacing:-1.675px;fill:#ff1a14;">Ti</text>
<text x="1550.52" y="3322.90" style="font-size:45.24px;font-weight:bold;letter-spacing:-1.262px;fill:#ff1a14;">4+</text>
<text x="261.90" y="3690.60" style="font-size:79.31px;font-weight:bold;letter-spacing:-1.147px;fill:#0047a0;">464.20 eV</text>
<text x="381.51" y="3800.60" style="font-size:79.31px;font-weight:bold;letter-spacing:-2.775px;fill:#0047a0;">Ti</text>
<text x="449.92" y="3773.60" style="font-size:45.24px;font-weight:bold;letter-spacing:-1.362px;fill:#0047a0;">4+</text>
</svg>
</body></html>
